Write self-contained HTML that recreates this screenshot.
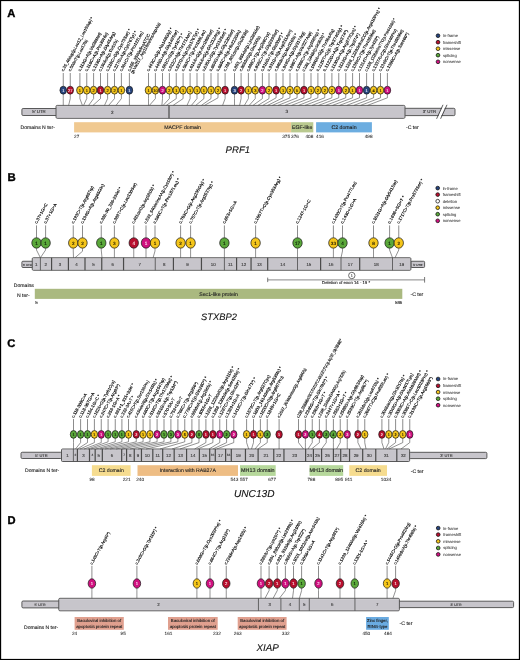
<!DOCTYPE html>
<html><head><meta charset="utf-8"><style>
html,body{margin:0;padding:0;background:#fff;width:520px;height:660px;overflow:hidden;}
svg{display:block;font-family:"Liberation Sans",sans-serif;will-change:transform;text-rendering:geometricPrecision;}
</style></head><body>
<svg width="520" height="660" viewBox="0 0 520 660" font-family="Liberation Sans, sans-serif">
<rect x="0" y="0" width="520" height="660" fill="#fff"/>
<text x="7.20" y="17.20" font-size="11.2" text-anchor="start" fill="#000" font-weight="bold" stroke="#000" stroke-width="0.35">A</text>
<rect x="21.90" y="108.50" width="36.10" height="7.00" rx="1.2" fill="#c7c5cb" stroke="#4a4a4a" stroke-width="0.9"/>
<text x="39.00" y="113.40" font-size="4.4" text-anchor="middle" fill="#333" stroke="#333" stroke-width="0.12" >5' UTR</text>
<rect x="404.00" y="108.30" width="51.00" height="7.30" rx="1.2" fill="#c7c5cb" stroke="#4a4a4a" stroke-width="0.9"/>
<text x="429.50" y="113.30" font-size="4.4" text-anchor="middle" fill="#333" stroke="#333" stroke-width="0.12" >3' UTR</text>
<rect x="56.00" y="105.40" width="349.00" height="12.90" rx="1.2" fill="#c7c5cb" stroke="#4a4a4a" stroke-width="0.9"/>
<line x1="56.60" y1="106.35" x2="404.40" y2="106.35" stroke="#d4d2d7" stroke-width="0.5"/>
<line x1="56.60" y1="117.30" x2="404.40" y2="117.30" stroke="#d0ced3" stroke-width="0.5"/>
<line x1="169.00" y1="105.40" x2="169.00" y2="118.30" stroke="#4a4a4a" stroke-width="1.2"/>
<polygon points="437.3,118.8 443.6,104.6 446.3,104.6 440.0,118.8" fill="#fff"/>
<line x1="436.6" y1="118.8" x2="443.0" y2="104.8" stroke="#333" stroke-width="0.8"/>
<line x1="440.6" y1="118.8" x2="447.0" y2="104.8" stroke="#333" stroke-width="0.8"/>
<text x="112.40" y="113.60" font-size="4.6" text-anchor="middle" fill="#333" stroke="#333" stroke-width="0.12" >2</text>
<text x="286.90" y="113.40" font-size="4.6" text-anchor="middle" fill="#333" stroke="#333" stroke-width="0.12" >3</text>
<line x1="63.25" y1="73.00" x2="63.25" y2="86.20" stroke="#5a5a5a" stroke-width="0.7"/>
<polyline points="63.25,94.20 63.25,98.60 63.25,105.40" fill="none" stroke="#4a4a4a" stroke-width="0.6"/>
<line x1="70.25" y1="73.00" x2="70.25" y2="86.20" stroke="#5a5a5a" stroke-width="0.7"/>
<polyline points="70.25,94.20 70.25,98.60 68.60,105.40" fill="none" stroke="#4a4a4a" stroke-width="0.6"/>
<line x1="79.90" y1="73.00" x2="79.90" y2="86.20" stroke="#5a5a5a" stroke-width="0.7"/>
<polyline points="79.90,94.20 79.90,98.60 82.40,105.40" fill="none" stroke="#4a4a4a" stroke-width="0.6"/>
<line x1="86.75" y1="73.00" x2="86.75" y2="86.20" stroke="#5a5a5a" stroke-width="0.7"/>
<polyline points="86.75,94.20 86.75,98.60 83.60,105.40" fill="none" stroke="#4a4a4a" stroke-width="0.6"/>
<line x1="93.60" y1="73.00" x2="93.60" y2="86.20" stroke="#5a5a5a" stroke-width="0.7"/>
<polyline points="93.60,94.20 93.60,98.60 88.60,105.40" fill="none" stroke="#4a4a4a" stroke-width="0.6"/>
<line x1="100.50" y1="73.00" x2="100.50" y2="86.20" stroke="#5a5a5a" stroke-width="0.7"/>
<polyline points="100.50,94.20 100.50,98.60 93.00,105.40" fill="none" stroke="#4a4a4a" stroke-width="0.6"/>
<line x1="107.60" y1="73.00" x2="107.60" y2="86.20" stroke="#5a5a5a" stroke-width="0.7"/>
<polyline points="107.60,94.20 107.60,98.60 104.50,105.40" fill="none" stroke="#4a4a4a" stroke-width="0.6"/>
<line x1="114.50" y1="73.00" x2="114.50" y2="86.20" stroke="#5a5a5a" stroke-width="0.7"/>
<polyline points="114.50,94.20 114.50,98.60 108.60,105.40" fill="none" stroke="#4a4a4a" stroke-width="0.6"/>
<line x1="121.40" y1="73.00" x2="121.40" y2="86.20" stroke="#5a5a5a" stroke-width="0.7"/>
<polyline points="121.40,94.20 121.40,98.60 116.00,105.40" fill="none" stroke="#4a4a4a" stroke-width="0.6"/>
<line x1="129.40" y1="73.00" x2="129.40" y2="86.20" stroke="#5a5a5a" stroke-width="0.7"/>
<polyline points="129.40,94.20 129.40,98.60 129.40,105.40" fill="none" stroke="#4a4a4a" stroke-width="0.6"/>
<line x1="148.50" y1="73.00" x2="148.50" y2="86.20" stroke="#5a5a5a" stroke-width="0.7"/>
<polyline points="148.50,94.20 148.50,98.60 148.50,105.40" fill="none" stroke="#4a4a4a" stroke-width="0.6"/>
<line x1="155.40" y1="73.00" x2="155.40" y2="86.20" stroke="#5a5a5a" stroke-width="0.7"/>
<polyline points="155.40,94.20 155.40,98.60 149.40,105.40" fill="none" stroke="#4a4a4a" stroke-width="0.6"/>
<line x1="162.50" y1="73.00" x2="162.50" y2="86.20" stroke="#5a5a5a" stroke-width="0.7"/>
<polyline points="162.50,94.20 162.50,98.60 161.90,105.40" fill="none" stroke="#4a4a4a" stroke-width="0.6"/>
<line x1="169.40" y1="73.00" x2="169.40" y2="86.20" stroke="#5a5a5a" stroke-width="0.7"/>
<polyline points="169.40,94.20 169.40,98.60 163.10,105.40" fill="none" stroke="#4a4a4a" stroke-width="0.6"/>
<line x1="176.25" y1="73.00" x2="176.25" y2="86.20" stroke="#5a5a5a" stroke-width="0.7"/>
<polyline points="176.25,94.20 176.25,98.60 166.25,105.40" fill="none" stroke="#4a4a4a" stroke-width="0.6"/>
<line x1="183.10" y1="73.00" x2="183.10" y2="86.20" stroke="#5a5a5a" stroke-width="0.7"/>
<polyline points="183.10,94.20 183.10,98.60 173.10,105.40" fill="none" stroke="#4a4a4a" stroke-width="0.6"/>
<line x1="190.10" y1="73.00" x2="190.10" y2="86.20" stroke="#5a5a5a" stroke-width="0.7"/>
<polyline points="190.10,94.20 190.10,98.60 187.00,105.40" fill="none" stroke="#4a4a4a" stroke-width="0.6"/>
<line x1="197.00" y1="73.00" x2="197.00" y2="86.20" stroke="#5a5a5a" stroke-width="0.7"/>
<polyline points="197.00,94.20 197.00,98.60 191.40,105.40" fill="none" stroke="#4a4a4a" stroke-width="0.6"/>
<line x1="203.90" y1="73.00" x2="203.90" y2="86.20" stroke="#5a5a5a" stroke-width="0.7"/>
<polyline points="203.90,94.20 203.90,98.60 195.75,105.40" fill="none" stroke="#4a4a4a" stroke-width="0.6"/>
<line x1="211.00" y1="73.00" x2="211.00" y2="86.20" stroke="#5a5a5a" stroke-width="0.7"/>
<polyline points="211.00,94.20 211.00,98.60 201.40,105.40" fill="none" stroke="#4a4a4a" stroke-width="0.6"/>
<line x1="218.00" y1="73.00" x2="218.00" y2="86.20" stroke="#5a5a5a" stroke-width="0.7"/>
<polyline points="218.00,94.20 218.00,97.80 204.50,105.40" fill="none" stroke="#4a4a4a" stroke-width="0.6"/>
<line x1="225.10" y1="73.00" x2="225.10" y2="86.20" stroke="#5a5a5a" stroke-width="0.7"/>
<polyline points="225.10,94.20 225.10,98.60 222.60,105.40" fill="none" stroke="#4a4a4a" stroke-width="0.6"/>
<line x1="234.50" y1="73.00" x2="234.50" y2="86.20" stroke="#5a5a5a" stroke-width="0.7"/>
<polyline points="234.50,94.20 234.50,98.60 234.50,105.40" fill="none" stroke="#4a4a4a" stroke-width="0.6"/>
<line x1="241.10" y1="73.00" x2="241.10" y2="86.20" stroke="#5a5a5a" stroke-width="0.7"/>
<polyline points="241.10,94.20 241.10,98.60 239.60,105.40" fill="none" stroke="#4a4a4a" stroke-width="0.6"/>
<line x1="248.40" y1="73.00" x2="248.40" y2="86.20" stroke="#5a5a5a" stroke-width="0.7"/>
<polyline points="248.40,94.20 248.40,98.60 244.40,105.40" fill="none" stroke="#4a4a4a" stroke-width="0.6"/>
<line x1="255.25" y1="73.00" x2="255.25" y2="86.20" stroke="#5a5a5a" stroke-width="0.7"/>
<polyline points="255.25,94.20 255.25,98.60 249.20,105.40" fill="none" stroke="#4a4a4a" stroke-width="0.6"/>
<line x1="262.40" y1="73.00" x2="262.40" y2="86.20" stroke="#5a5a5a" stroke-width="0.7"/>
<polyline points="262.40,94.20 262.40,98.60 253.00,105.40" fill="none" stroke="#4a4a4a" stroke-width="0.6"/>
<line x1="269.00" y1="73.00" x2="269.00" y2="86.20" stroke="#5a5a5a" stroke-width="0.7"/>
<polyline points="269.00,94.20 269.00,98.60 257.90,105.40" fill="none" stroke="#4a4a4a" stroke-width="0.6"/>
<line x1="276.10" y1="73.00" x2="276.10" y2="86.20" stroke="#5a5a5a" stroke-width="0.7"/>
<polyline points="276.10,94.20 276.10,97.80 262.70,105.40" fill="none" stroke="#4a4a4a" stroke-width="0.6"/>
<line x1="283.00" y1="73.00" x2="283.00" y2="86.20" stroke="#5a5a5a" stroke-width="0.7"/>
<polyline points="283.00,94.20 283.00,97.80 267.50,105.40" fill="none" stroke="#4a4a4a" stroke-width="0.6"/>
<line x1="290.00" y1="73.00" x2="290.00" y2="86.20" stroke="#5a5a5a" stroke-width="0.7"/>
<polyline points="290.00,94.20 290.00,97.80 272.30,105.40" fill="none" stroke="#4a4a4a" stroke-width="0.6"/>
<line x1="297.10" y1="73.00" x2="297.10" y2="86.20" stroke="#5a5a5a" stroke-width="0.7"/>
<polyline points="297.10,94.20 297.10,97.80 278.00,105.40" fill="none" stroke="#4a4a4a" stroke-width="0.6"/>
<line x1="304.00" y1="73.00" x2="304.00" y2="86.20" stroke="#5a5a5a" stroke-width="0.7"/>
<polyline points="304.00,94.20 304.00,97.80 284.80,105.40" fill="none" stroke="#4a4a4a" stroke-width="0.6"/>
<line x1="311.00" y1="73.00" x2="311.00" y2="86.20" stroke="#5a5a5a" stroke-width="0.7"/>
<polyline points="311.00,94.20 311.00,97.80 291.50,105.40" fill="none" stroke="#4a4a4a" stroke-width="0.6"/>
<line x1="317.90" y1="73.00" x2="317.90" y2="86.20" stroke="#5a5a5a" stroke-width="0.7"/>
<polyline points="317.90,94.20 317.90,97.80 298.50,105.40" fill="none" stroke="#4a4a4a" stroke-width="0.6"/>
<line x1="324.75" y1="73.00" x2="324.75" y2="86.20" stroke="#5a5a5a" stroke-width="0.7"/>
<polyline points="324.75,94.20 324.75,97.80 305.00,105.40" fill="none" stroke="#4a4a4a" stroke-width="0.6"/>
<line x1="331.90" y1="73.00" x2="331.90" y2="86.20" stroke="#5a5a5a" stroke-width="0.7"/>
<polyline points="331.90,94.20 331.90,97.80 312.00,105.40" fill="none" stroke="#4a4a4a" stroke-width="0.6"/>
<line x1="338.75" y1="73.00" x2="338.75" y2="86.20" stroke="#5a5a5a" stroke-width="0.7"/>
<polyline points="338.75,94.20 338.75,97.80 318.50,105.40" fill="none" stroke="#4a4a4a" stroke-width="0.6"/>
<line x1="345.75" y1="73.00" x2="345.75" y2="86.20" stroke="#5a5a5a" stroke-width="0.7"/>
<polyline points="345.75,94.20 345.75,97.80 325.50,105.40" fill="none" stroke="#4a4a4a" stroke-width="0.6"/>
<line x1="352.60" y1="73.00" x2="352.60" y2="86.20" stroke="#5a5a5a" stroke-width="0.7"/>
<polyline points="352.60,94.20 352.60,97.80 332.50,105.40" fill="none" stroke="#4a4a4a" stroke-width="0.6"/>
<line x1="359.50" y1="73.00" x2="359.50" y2="86.20" stroke="#5a5a5a" stroke-width="0.7"/>
<polyline points="359.50,94.20 359.50,97.80 339.50,105.40" fill="none" stroke="#4a4a4a" stroke-width="0.6"/>
<line x1="366.60" y1="73.00" x2="366.60" y2="86.20" stroke="#5a5a5a" stroke-width="0.7"/>
<polyline points="366.60,94.20 366.60,97.80 346.60,105.40" fill="none" stroke="#4a4a4a" stroke-width="0.6"/>
<line x1="373.60" y1="73.00" x2="373.60" y2="86.20" stroke="#5a5a5a" stroke-width="0.7"/>
<polyline points="373.60,94.20 373.60,97.80 353.80,105.40" fill="none" stroke="#4a4a4a" stroke-width="0.6"/>
<line x1="380.50" y1="73.00" x2="380.50" y2="86.20" stroke="#5a5a5a" stroke-width="0.7"/>
<polyline points="380.50,94.20 380.50,97.80 360.60,105.40" fill="none" stroke="#4a4a4a" stroke-width="0.6"/>
<line x1="387.40" y1="73.00" x2="387.40" y2="86.20" stroke="#5a5a5a" stroke-width="0.7"/>
<polyline points="387.40,94.20 387.40,97.80 367.50,105.40" fill="none" stroke="#4a4a4a" stroke-width="0.6"/>
<ellipse cx="63.25" cy="90.20" rx="3.3" ry="3.95" fill="#27457f" stroke="#151515" stroke-width="0.7"/>
<text x="63.25" y="91.64" font-size="4.0" text-anchor="middle" fill="#f0f0f8" stroke="#f0f0f8" stroke-width="0.12">1</text>
<text transform="translate(63.55,71.80) rotate(-61.0)" font-size="4.2" fill="#000" stroke="#000" stroke-width="0.14" textLength="61.51" lengthAdjust="spacingAndGlyphs">c.35_46dup(p.Leu12_Leu15dup) *</text>
<ellipse cx="70.25" cy="90.20" rx="3.3" ry="3.95" fill="#b80f2e" stroke="#151515" stroke-width="0.7"/>
<text x="70.25" y="91.64" font-size="4.0" text-anchor="middle" fill="#fbe0e6" stroke="#fbe0e6" stroke-width="0.12">27</text>
<text transform="translate(70.55,71.80) rotate(-61.0)" font-size="4.2" fill="#000" stroke="#000" stroke-width="0.14" textLength="35.79" lengthAdjust="spacingAndGlyphs">c.50delT(p.Leu17fs)</text>
<ellipse cx="79.90" cy="90.20" rx="3.3" ry="3.95" fill="#f4c51a" stroke="#151515" stroke-width="0.7"/>
<text x="79.90" y="91.64" font-size="4.0" text-anchor="middle" fill="#1a1400" stroke="#1a1400" stroke-width="0.12">1</text>
<text transform="translate(80.20,71.80) rotate(-61.0)" font-size="4.2" fill="#000" stroke="#000" stroke-width="0.14" textLength="43.79" lengthAdjust="spacingAndGlyphs">c.113G&gt;A(p.Val38Met)</text>
<ellipse cx="86.75" cy="90.20" rx="3.3" ry="3.95" fill="#f4c51a" stroke="#151515" stroke-width="0.7"/>
<text x="86.75" y="91.64" font-size="4.0" text-anchor="middle" fill="#1a1400" stroke="#1a1400" stroke-width="0.12">1</text>
<text transform="translate(87.05,71.80) rotate(-61.0)" font-size="4.2" fill="#000" stroke="#000" stroke-width="0.14" textLength="43.79" lengthAdjust="spacingAndGlyphs">c.116C&gt;A(p.Pro39His)</text>
<ellipse cx="93.60" cy="90.20" rx="3.3" ry="3.95" fill="#f4c51a" stroke="#151515" stroke-width="0.7"/>
<text x="93.60" y="91.64" font-size="4.0" text-anchor="middle" fill="#1a1400" stroke="#1a1400" stroke-width="0.12">2</text>
<text transform="translate(93.90,71.80) rotate(-61.0)" font-size="4.2" fill="#000" stroke="#000" stroke-width="0.14" textLength="44.36" lengthAdjust="spacingAndGlyphs">c.133G&gt;A(p.Gly45Arg)</text>
<ellipse cx="100.50" cy="90.20" rx="3.3" ry="3.95" fill="#b80f2e" stroke="#151515" stroke-width="0.7"/>
<text x="100.50" y="91.64" font-size="4.0" text-anchor="middle" fill="#fbe0e6" stroke="#fbe0e6" stroke-width="0.12">1</text>
<text transform="translate(100.80,71.80) rotate(-61.0)" font-size="4.2" fill="#000" stroke="#000" stroke-width="0.14" textLength="35.79" lengthAdjust="spacingAndGlyphs">c.150delA(p.Thr51fs)</text>
<ellipse cx="107.60" cy="90.20" rx="3.3" ry="3.95" fill="#f4c51a" stroke="#151515" stroke-width="0.7"/>
<text x="107.60" y="91.64" font-size="4.0" text-anchor="middle" fill="#1a1400" stroke="#1a1400" stroke-width="0.12">2</text>
<text transform="translate(107.90,71.80) rotate(-61.0)" font-size="4.2" fill="#000" stroke="#000" stroke-width="0.14" textLength="47.91" lengthAdjust="spacingAndGlyphs">c.218C&gt;G(p.Cys73Ser) *</text>
<ellipse cx="114.50" cy="90.20" rx="3.3" ry="3.95" fill="#f4c51a" stroke="#151515" stroke-width="0.7"/>
<text x="114.50" y="91.64" font-size="4.0" text-anchor="middle" fill="#1a1400" stroke="#1a1400" stroke-width="0.12">2</text>
<text transform="translate(114.80,71.80) rotate(-61.0)" font-size="4.2" fill="#000" stroke="#000" stroke-width="0.14" textLength="45.79" lengthAdjust="spacingAndGlyphs">c.227G&gt;A(p.Cys76Tyr) *</text>
<ellipse cx="121.40" cy="90.20" rx="3.3" ry="3.95" fill="#f4c51a" stroke="#151515" stroke-width="0.7"/>
<text x="121.40" y="91.64" font-size="4.0" text-anchor="middle" fill="#1a1400" stroke="#1a1400" stroke-width="0.12">1</text>
<text transform="translate(121.70,71.80) rotate(-61.0)" font-size="4.2" fill="#000" stroke="#000" stroke-width="0.14" textLength="45.05" lengthAdjust="spacingAndGlyphs">c.364C&gt;T(p.Pro122Leu)</text>
<ellipse cx="129.40" cy="90.20" rx="3.3" ry="3.95" fill="#27457f" stroke="#151515" stroke-width="0.7"/>
<text x="129.40" y="91.64" font-size="4.0" text-anchor="middle" fill="#f0f0f8" stroke="#f0f0f8" stroke-width="0.12">1</text>
<text transform="translate(129.70,71.80) rotate(-61.0)" font-size="4.2" fill="#000" stroke="#000" stroke-width="0.14" textLength="42.19" lengthAdjust="spacingAndGlyphs">c.355_359delinsATCC</text>
<ellipse cx="148.50" cy="90.20" rx="3.3" ry="3.95" fill="#f4c51a" stroke="#151515" stroke-width="0.7"/>
<text x="148.50" y="91.64" font-size="4.0" text-anchor="middle" fill="#1a1400" stroke="#1a1400" stroke-width="0.12">1</text>
<text transform="translate(148.80,71.80) rotate(-61.0)" font-size="4.2" fill="#000" stroke="#000" stroke-width="0.14" textLength="49.39" lengthAdjust="spacingAndGlyphs">c.443C&gt;G(p.Ala148Gly) *</text>
<ellipse cx="155.40" cy="90.20" rx="3.3" ry="3.95" fill="#f4c51a" stroke="#151515" stroke-width="0.7"/>
<text x="155.40" y="91.64" font-size="4.0" text-anchor="middle" fill="#1a1400" stroke="#1a1400" stroke-width="0.12">10</text>
<text transform="translate(155.70,71.80) rotate(-61.0)" font-size="4.2" fill="#000" stroke="#000" stroke-width="0.14" textLength="46.53" lengthAdjust="spacingAndGlyphs">c.445G&gt;A(p.Gly149Ser)</text>
<ellipse cx="162.50" cy="90.20" rx="3.3" ry="3.95" fill="#d0107f" stroke="#151515" stroke-width="0.7"/>
<text x="162.50" y="91.64" font-size="4.0" text-anchor="middle" fill="#fbe0ef" stroke="#fbe0ef" stroke-width="0.12">2</text>
<text transform="translate(162.80,71.80) rotate(-61.0)" font-size="4.2" fill="#000" stroke="#000" stroke-width="0.14" textLength="42.93" lengthAdjust="spacingAndGlyphs">c.501C&gt;G(p.Tyr167*) *</text>
<ellipse cx="169.40" cy="90.20" rx="3.3" ry="3.95" fill="#f4c51a" stroke="#151515" stroke-width="0.7"/>
<text x="169.40" y="91.64" font-size="4.0" text-anchor="middle" fill="#1a1400" stroke="#1a1400" stroke-width="0.12">2</text>
<text transform="translate(169.70,71.80) rotate(-61.0)" font-size="4.2" fill="#000" stroke="#000" stroke-width="0.14" textLength="45.05" lengthAdjust="spacingAndGlyphs">c.512C&gt;A(p.Thr171Asn)</text>
<ellipse cx="176.25" cy="90.20" rx="3.3" ry="3.95" fill="#f4c51a" stroke="#151515" stroke-width="0.7"/>
<text x="176.25" y="91.64" font-size="4.0" text-anchor="middle" fill="#1a1400" stroke="#1a1400" stroke-width="0.12">1</text>
<text transform="translate(176.55,71.80) rotate(-61.0)" font-size="4.2" fill="#000" stroke="#000" stroke-width="0.14" textLength="48.36" lengthAdjust="spacingAndGlyphs">c.527G&gt;A(p.Cys176Tyr) *</text>
<ellipse cx="183.10" cy="90.20" rx="3.3" ry="3.95" fill="#f4c51a" stroke="#151515" stroke-width="0.7"/>
<text x="183.10" y="91.64" font-size="4.0" text-anchor="middle" fill="#1a1400" stroke="#1a1400" stroke-width="0.12">1</text>
<text transform="translate(183.40,71.80) rotate(-61.0)" font-size="4.2" fill="#000" stroke="#000" stroke-width="0.14" textLength="46.53" lengthAdjust="spacingAndGlyphs">c.563C&gt;T(p.Pro188Leu)</text>
<ellipse cx="190.10" cy="90.20" rx="3.3" ry="3.95" fill="#f4c51a" stroke="#151515" stroke-width="0.7"/>
<text x="190.10" y="91.64" font-size="4.0" text-anchor="middle" fill="#1a1400" stroke="#1a1400" stroke-width="0.12">1</text>
<text transform="translate(190.40,71.80) rotate(-61.0)" font-size="4.2" fill="#000" stroke="#000" stroke-width="0.14" textLength="47.22" lengthAdjust="spacingAndGlyphs">c.614A&gt;G(p.Asn205Ser)</text>
<ellipse cx="197.00" cy="90.20" rx="3.3" ry="3.95" fill="#f4c51a" stroke="#151515" stroke-width="0.7"/>
<text x="197.00" y="91.64" font-size="4.0" text-anchor="middle" fill="#1a1400" stroke="#1a1400" stroke-width="0.12">1</text>
<text transform="translate(197.30,71.80) rotate(-61.0)" font-size="4.2" fill="#000" stroke="#000" stroke-width="0.14" textLength="49.39" lengthAdjust="spacingAndGlyphs">c.634A&gt;G(p.Gln212Arg) *</text>
<ellipse cx="203.90" cy="90.20" rx="3.3" ry="3.95" fill="#f4c51a" stroke="#151515" stroke-width="0.7"/>
<text x="203.90" y="91.64" font-size="4.0" text-anchor="middle" fill="#1a1400" stroke="#1a1400" stroke-width="0.12">1</text>
<text transform="translate(204.20,71.80) rotate(-61.0)" font-size="4.2" fill="#000" stroke="#000" stroke-width="0.14" textLength="47.91" lengthAdjust="spacingAndGlyphs">c.635A&gt;G(p.Tyr212Ser) *</text>
<ellipse cx="211.00" cy="90.20" rx="3.3" ry="3.95" fill="#f4c51a" stroke="#151515" stroke-width="0.7"/>
<text x="211.00" y="91.64" font-size="4.0" text-anchor="middle" fill="#1a1400" stroke="#1a1400" stroke-width="0.12">1</text>
<text transform="translate(211.30,71.80) rotate(-61.0)" font-size="4.2" fill="#000" stroke="#000" stroke-width="0.14" textLength="47.22" lengthAdjust="spacingAndGlyphs">c.659G&gt;A(p.Gly220Ser)</text>
<ellipse cx="218.00" cy="90.20" rx="3.3" ry="3.95" fill="#f4c51a" stroke="#151515" stroke-width="0.7"/>
<text x="218.00" y="91.64" font-size="4.0" text-anchor="middle" fill="#1a1400" stroke="#1a1400" stroke-width="0.12">2</text>
<text transform="translate(218.30,71.80) rotate(-61.0)" font-size="4.2" fill="#000" stroke="#000" stroke-width="0.14" textLength="46.53" lengthAdjust="spacingAndGlyphs">c.665C&gt;A(p.His222Gln)</text>
<ellipse cx="225.10" cy="90.20" rx="3.3" ry="3.95" fill="#b80f2e" stroke="#151515" stroke-width="0.7"/>
<text x="225.10" y="91.64" font-size="4.0" text-anchor="middle" fill="#fbe0e6" stroke="#fbe0e6" stroke-width="0.12">1</text>
<text transform="translate(225.40,71.80) rotate(-61.0)" font-size="4.2" fill="#000" stroke="#000" stroke-width="0.14" textLength="47.22" lengthAdjust="spacingAndGlyphs">c.788_801del(p.Glu263fs)</text>
<ellipse cx="234.50" cy="90.20" rx="3.3" ry="3.95" fill="#27457f" stroke="#151515" stroke-width="0.7"/>
<text x="234.50" y="91.64" font-size="4.0" text-anchor="middle" fill="#f0f0f8" stroke="#f0f0f8" stroke-width="0.12">3</text>
<text transform="translate(234.80,71.80) rotate(-61.0)" font-size="4.2" fill="#000" stroke="#000" stroke-width="0.14" textLength="51.51" lengthAdjust="spacingAndGlyphs">c.853_855del(p.Lys285del)</text>
<ellipse cx="241.10" cy="90.20" rx="3.3" ry="3.95" fill="#b80f2e" stroke="#151515" stroke-width="0.7"/>
<text x="241.10" y="91.64" font-size="4.0" text-anchor="middle" fill="#fbe0e6" stroke="#fbe0e6" stroke-width="0.12">2</text>
<text transform="translate(241.40,71.80) rotate(-61.0)" font-size="4.2" fill="#000" stroke="#000" stroke-width="0.14" textLength="40.07" lengthAdjust="spacingAndGlyphs">c.868delG(p.Gln290fs)</text>
<ellipse cx="248.40" cy="90.20" rx="3.3" ry="3.95" fill="#f4c51a" stroke="#151515" stroke-width="0.7"/>
<text x="248.40" y="91.64" font-size="4.0" text-anchor="middle" fill="#1a1400" stroke="#1a1400" stroke-width="0.12">1</text>
<text transform="translate(248.70,71.80) rotate(-61.0)" font-size="4.2" fill="#000" stroke="#000" stroke-width="0.14" textLength="44.36" lengthAdjust="spacingAndGlyphs">c.886C&gt;T(p.Arg296Cys)</text>
<ellipse cx="255.25" cy="90.20" rx="3.3" ry="3.95" fill="#f4c51a" stroke="#151515" stroke-width="0.7"/>
<text x="255.25" y="91.64" font-size="4.0" text-anchor="middle" fill="#1a1400" stroke="#1a1400" stroke-width="0.12">3</text>
<text transform="translate(255.55,71.80) rotate(-61.0)" font-size="4.2" fill="#000" stroke="#000" stroke-width="0.14" textLength="47.22" lengthAdjust="spacingAndGlyphs">c.895C&gt;T(p.Gly299Ser)</text>
<ellipse cx="262.40" cy="90.20" rx="3.3" ry="3.95" fill="#d0107f" stroke="#151515" stroke-width="0.7"/>
<text x="262.40" y="91.64" font-size="4.0" text-anchor="middle" fill="#fbe0ef" stroke="#fbe0ef" stroke-width="0.12">2</text>
<text transform="translate(262.70,71.80) rotate(-61.0)" font-size="4.2" fill="#000" stroke="#000" stroke-width="0.14" textLength="43.79" lengthAdjust="spacingAndGlyphs">c.916G&gt;T(p.Glu306*) *</text>
<ellipse cx="269.00" cy="90.20" rx="3.3" ry="3.95" fill="#f4c51a" stroke="#151515" stroke-width="0.7"/>
<text x="269.00" y="91.64" font-size="4.0" text-anchor="middle" fill="#1a1400" stroke="#1a1400" stroke-width="0.12">2</text>
<text transform="translate(269.30,71.80) rotate(-61.0)" font-size="4.2" fill="#000" stroke="#000" stroke-width="0.14" textLength="47.22" lengthAdjust="spacingAndGlyphs">c.931G&gt;A(p.Asp311Asn)</text>
<ellipse cx="276.10" cy="90.20" rx="3.3" ry="3.95" fill="#b80f2e" stroke="#151515" stroke-width="0.7"/>
<text x="276.10" y="91.64" font-size="4.0" text-anchor="middle" fill="#fbe0e6" stroke="#fbe0e6" stroke-width="0.12">1</text>
<text transform="translate(276.40,71.80) rotate(-61.0)" font-size="4.2" fill="#000" stroke="#000" stroke-width="0.14" textLength="42.93" lengthAdjust="spacingAndGlyphs">c.946delA(p.Met316fs) *</text>
<ellipse cx="283.00" cy="90.20" rx="3.3" ry="3.95" fill="#f4c51a" stroke="#151515" stroke-width="0.7"/>
<text x="283.00" y="91.64" font-size="4.0" text-anchor="middle" fill="#1a1400" stroke="#1a1400" stroke-width="0.12">1</text>
<text transform="translate(283.30,71.80) rotate(-61.0)" font-size="4.2" fill="#000" stroke="#000" stroke-width="0.14" textLength="45.05" lengthAdjust="spacingAndGlyphs">c.949G&gt;A(p.Gly317Arg)</text>
<ellipse cx="290.00" cy="90.20" rx="3.3" ry="3.95" fill="#f4c51a" stroke="#151515" stroke-width="0.7"/>
<text x="290.00" y="91.64" font-size="4.0" text-anchor="middle" fill="#1a1400" stroke="#1a1400" stroke-width="0.12">2</text>
<text transform="translate(290.30,71.80) rotate(-61.0)" font-size="4.2" fill="#000" stroke="#000" stroke-width="0.14" textLength="45.05" lengthAdjust="spacingAndGlyphs">c.980T&gt;A(p.Val327Asp)</text>
<ellipse cx="297.10" cy="90.20" rx="3.3" ry="3.95" fill="#f4c51a" stroke="#151515" stroke-width="0.7"/>
<text x="297.10" y="91.64" font-size="4.0" text-anchor="middle" fill="#1a1400" stroke="#1a1400" stroke-width="0.12">5</text>
<text transform="translate(297.40,71.80) rotate(-61.0)" font-size="4.2" fill="#000" stroke="#000" stroke-width="0.14" textLength="47.22" lengthAdjust="spacingAndGlyphs">c.1066C&gt;T(p.Arg356Trp) *</text>
<ellipse cx="304.00" cy="90.20" rx="3.3" ry="3.95" fill="#b80f2e" stroke="#151515" stroke-width="0.7"/>
<text x="304.00" y="91.64" font-size="4.0" text-anchor="middle" fill="#fbe0e6" stroke="#fbe0e6" stroke-width="0.12">1</text>
<text transform="translate(304.30,71.80) rotate(-61.0)" font-size="4.2" fill="#000" stroke="#000" stroke-width="0.14" textLength="42.93" lengthAdjust="spacingAndGlyphs">c.1083_1094del(p.Ser361fs) *</text>
<ellipse cx="311.00" cy="90.20" rx="3.3" ry="3.95" fill="#f4c51a" stroke="#151515" stroke-width="0.7"/>
<text x="311.00" y="91.64" font-size="4.0" text-anchor="middle" fill="#1a1400" stroke="#1a1400" stroke-width="0.12">1</text>
<text transform="translate(311.30,71.80) rotate(-61.0)" font-size="4.2" fill="#000" stroke="#000" stroke-width="0.14" textLength="47.91" lengthAdjust="spacingAndGlyphs">c.1090A&gt;G(p.Thr364Ala)</text>
<ellipse cx="317.90" cy="90.20" rx="3.3" ry="3.95" fill="#f4c51a" stroke="#151515" stroke-width="0.7"/>
<text x="317.90" y="91.64" font-size="4.0" text-anchor="middle" fill="#1a1400" stroke="#1a1400" stroke-width="0.12">2</text>
<text transform="translate(318.20,71.80) rotate(-61.0)" font-size="4.2" fill="#000" stroke="#000" stroke-width="0.14" textLength="52.25" lengthAdjust="spacingAndGlyphs">c.1120T&gt;G(p.Trp374Gly) *</text>
<ellipse cx="324.75" cy="90.20" rx="3.3" ry="3.95" fill="#f4c51a" stroke="#151515" stroke-width="0.7"/>
<text x="324.75" y="91.64" font-size="4.0" text-anchor="middle" fill="#1a1400" stroke="#1a1400" stroke-width="0.12">2</text>
<text transform="translate(325.05,71.80) rotate(-61.0)" font-size="4.2" fill="#000" stroke="#000" stroke-width="0.14" textLength="47.22" lengthAdjust="spacingAndGlyphs">c.1122G&gt;A(p.Trp374*)</text>
<ellipse cx="331.90" cy="90.20" rx="3.3" ry="3.95" fill="#f4c51a" stroke="#151515" stroke-width="0.7"/>
<text x="331.90" y="91.64" font-size="4.0" text-anchor="middle" fill="#1a1400" stroke="#1a1400" stroke-width="0.12">2</text>
<text transform="translate(332.20,71.80) rotate(-61.0)" font-size="4.2" fill="#000" stroke="#000" stroke-width="0.14" textLength="51.51" lengthAdjust="spacingAndGlyphs">c.1130G&gt;A(p.Arg377Cys) *</text>
<ellipse cx="338.75" cy="90.20" rx="3.3" ry="3.95" fill="#d0107f" stroke="#151515" stroke-width="0.7"/>
<text x="338.75" y="91.64" font-size="4.0" text-anchor="middle" fill="#fbe0ef" stroke="#fbe0ef" stroke-width="0.12">1</text>
<text transform="translate(339.05,71.80) rotate(-61.0)" font-size="4.2" fill="#000" stroke="#000" stroke-width="0.14" textLength="42.93" lengthAdjust="spacingAndGlyphs">c.1122G&gt;A(p.Trp374*)</text>
<ellipse cx="345.75" cy="90.20" rx="3.3" ry="3.95" fill="#f4c51a" stroke="#151515" stroke-width="0.7"/>
<text x="345.75" y="91.64" font-size="4.0" text-anchor="middle" fill="#1a1400" stroke="#1a1400" stroke-width="0.12">2</text>
<text transform="translate(346.05,71.80) rotate(-61.0)" font-size="4.2" fill="#000" stroke="#000" stroke-width="0.14" textLength="72.26" lengthAdjust="spacingAndGlyphs">c.1228_1229delinsCC(p.Arg410Pro) *</text>
<ellipse cx="352.60" cy="90.20" rx="3.3" ry="3.95" fill="#f4c51a" stroke="#151515" stroke-width="0.7"/>
<text x="352.60" y="91.64" font-size="4.0" text-anchor="middle" fill="#1a1400" stroke="#1a1400" stroke-width="0.12">1</text>
<text transform="translate(352.90,71.80) rotate(-61.0)" font-size="4.2" fill="#000" stroke="#000" stroke-width="0.14" textLength="47.22" lengthAdjust="spacingAndGlyphs">c.1304C&gt;T(p.Thr435Met)</text>
<ellipse cx="359.50" cy="90.20" rx="3.3" ry="3.95" fill="#d0107f" stroke="#151515" stroke-width="0.7"/>
<text x="359.50" y="91.64" font-size="4.0" text-anchor="middle" fill="#fbe0ef" stroke="#fbe0ef" stroke-width="0.12">1</text>
<text transform="translate(359.80,71.80) rotate(-61.0)" font-size="4.2" fill="#000" stroke="#000" stroke-width="0.14" textLength="40.07" lengthAdjust="spacingAndGlyphs">c.1314T&gt;A(p.Tyr438*)</text>
<ellipse cx="366.60" cy="90.20" rx="3.3" ry="3.95" fill="#27457f" stroke="#151515" stroke-width="0.7"/>
<text x="366.60" y="91.64" font-size="4.0" text-anchor="middle" fill="#f0f0f8" stroke="#f0f0f8" stroke-width="0.12">1</text>
<text transform="translate(366.90,71.80) rotate(-61.0)" font-size="4.2" fill="#000" stroke="#000" stroke-width="0.14" textLength="60.08" lengthAdjust="spacingAndGlyphs">c.1326_1328delinsTTC(p.Phe443del) *</text>
<ellipse cx="373.60" cy="90.20" rx="3.3" ry="3.95" fill="#f4c51a" stroke="#151515" stroke-width="0.7"/>
<text x="373.60" y="91.64" font-size="4.0" text-anchor="middle" fill="#1a1400" stroke="#1a1400" stroke-width="0.12">4</text>
<text transform="translate(373.90,71.80) rotate(-61.0)" font-size="4.2" fill="#000" stroke="#000" stroke-width="0.14" textLength="47.91" lengthAdjust="spacingAndGlyphs">c.1337A&gt;C(p.Gln446Pro)</text>
<ellipse cx="380.50" cy="90.20" rx="3.3" ry="3.95" fill="#f4c51a" stroke="#151515" stroke-width="0.7"/>
<text x="380.50" y="91.64" font-size="4.0" text-anchor="middle" fill="#1a1400" stroke="#1a1400" stroke-width="0.12">1</text>
<text transform="translate(380.80,71.80) rotate(-61.0)" font-size="4.2" fill="#000" stroke="#000" stroke-width="0.14" textLength="47.22" lengthAdjust="spacingAndGlyphs">c.1349C&gt;T(p.Thr450Met)</text>
<ellipse cx="387.40" cy="90.20" rx="3.3" ry="3.95" fill="#d0107f" stroke="#151515" stroke-width="0.7"/>
<text x="387.40" y="91.64" font-size="4.0" text-anchor="middle" fill="#fbe0ef" stroke="#fbe0ef" stroke-width="0.12">1</text>
<text transform="translate(387.70,71.80) rotate(-61.0)" font-size="4.2" fill="#000" stroke="#000" stroke-width="0.14" textLength="43.68" lengthAdjust="spacingAndGlyphs">c.1380C&gt;A(p.Ser460*)</text>
<text transform="translate(132.90,73.90) rotate(-61.0)" font-size="4.2" fill="#000" stroke="#000" stroke-width="0.14" textLength="57.51" lengthAdjust="spacingAndGlyphs">(p.Val117_Arg118delinsAspAla)</text>
<circle cx="438.00" cy="35.70" r="1.85" fill="#27457f" stroke="#111" stroke-width="0.75"/>
<text x="443.00" y="37.10" font-size="4.1" text-anchor="start" fill="#333" stroke="#333" stroke-width="0.05" >in-frame</text>
<circle cx="438.00" cy="42.20" r="1.85" fill="#b80f2e" stroke="#111" stroke-width="0.75"/>
<text x="443.00" y="43.60" font-size="4.1" text-anchor="start" fill="#333" stroke="#333" stroke-width="0.05" >frameshift</text>
<circle cx="438.00" cy="48.70" r="1.85" fill="#f4c51a" stroke="#111" stroke-width="0.75"/>
<text x="443.00" y="50.10" font-size="4.1" text-anchor="start" fill="#333" stroke="#333" stroke-width="0.05" >missense</text>
<circle cx="438.00" cy="55.20" r="1.85" fill="#5aa83a" stroke="#111" stroke-width="0.75"/>
<text x="443.00" y="56.60" font-size="4.1" text-anchor="start" fill="#333" stroke="#333" stroke-width="0.05" >splicing</text>
<circle cx="438.00" cy="61.80" r="1.85" fill="#d0107f" stroke="#111" stroke-width="0.75"/>
<text x="443.00" y="63.20" font-size="4.1" text-anchor="start" fill="#333" stroke="#333" stroke-width="0.05" >nonsense</text>
<text x="20.60" y="129.00" font-size="5.1" text-anchor="start" fill="#222" stroke="#222" stroke-width="0.12" >Domains N ter-</text>
<rect x="74.10" y="122.20" width="217.00" height="10.20" fill="#f0c991"/>
<text x="182.60" y="129.12" font-size="5.2" text-anchor="middle" fill="#222" stroke="#222" stroke-width="0.12" >MACPF domain</text>
<rect x="291.10" y="122.20" width="22.20" height="10.20" fill="#b9c98f"/>
<text x="302.20" y="129.12" font-size="5.2" text-anchor="middle" fill="#222" stroke="#222" stroke-width="0.12" >EGF-like</text>
<rect x="316.10" y="122.20" width="55.80" height="10.20" fill="#6cade0"/>
<text x="344.00" y="129.12" font-size="5.2" text-anchor="middle" fill="#222" stroke="#222" stroke-width="0.12" >C2 domain</text>
<text x="406.00" y="129.20" font-size="5.1" text-anchor="start" fill="#222" stroke="#222" stroke-width="0.12" >-C ter</text>
<text x="74.10" y="137.90" font-size="4.7" text-anchor="start" fill="#1a1a1a" stroke="#1a1a1a" stroke-width="0.05" >27</text>
<text x="290.10" y="137.90" font-size="4.7" text-anchor="end" fill="#1a1a1a" stroke="#1a1a1a" stroke-width="0.05" >375</text>
<text x="291.10" y="137.90" font-size="4.7" text-anchor="start" fill="#1a1a1a" stroke="#1a1a1a" stroke-width="0.05" >376</text>
<text x="313.30" y="137.90" font-size="4.7" text-anchor="end" fill="#1a1a1a" stroke="#1a1a1a" stroke-width="0.05" >408</text>
<text x="316.10" y="137.90" font-size="4.7" text-anchor="start" fill="#1a1a1a" stroke="#1a1a1a" stroke-width="0.05" >416</text>
<text x="372.50" y="137.90" font-size="4.7" text-anchor="end" fill="#1a1a1a" stroke="#1a1a1a" stroke-width="0.05" >498</text>
<text x="225.60" y="153.10" font-size="9.6" text-anchor="start" fill="#111" stroke="#111" stroke-width="0.1" font-style="italic">PRF1</text>
<text x="7.40" y="180.80" font-size="11.4" text-anchor="start" fill="#000" font-weight="bold" stroke="#000" stroke-width="0.35">B</text>
<rect x="21.90" y="261.25" width="11.10" height="6.25" rx="1.0" fill="#c7c5cb" stroke="#4a4a4a" stroke-width="0.9"/>
<text x="27.40" y="265.60" font-size="2.9" text-anchor="middle" fill="#333" stroke="#333" stroke-width="0.12" >5' UTR</text>
<rect x="410.90" y="261.25" width="13.70" height="6.25" rx="1.0" fill="#c7c5cb" stroke="#4a4a4a" stroke-width="0.9"/>
<text x="417.70" y="265.60" font-size="3.0" text-anchor="middle" fill="#333" stroke="#333" stroke-width="0.12" >3' UTR</text>
<rect x="32.25" y="257.75" width="378.65" height="12.50" rx="1.0" fill="#c7c5cb" stroke="#4a4a4a" stroke-width="0.9"/>
<line x1="32.85" y1="258.70" x2="410.30" y2="258.70" stroke="#d4d2d7" stroke-width="0.5"/>
<line x1="32.85" y1="269.25" x2="410.30" y2="269.25" stroke="#d0ced3" stroke-width="0.5"/>
<line x1="40.40" y1="257.75" x2="40.40" y2="270.25" stroke="#4a4a4a" stroke-width="0.8"/>
<line x1="51.58" y1="257.75" x2="51.58" y2="270.25" stroke="#4a4a4a" stroke-width="1.2"/>
<line x1="68.42" y1="257.75" x2="68.42" y2="270.25" stroke="#4a4a4a" stroke-width="1.2"/>
<line x1="85.00" y1="257.75" x2="85.00" y2="270.25" stroke="#4a4a4a" stroke-width="1.2"/>
<line x1="101.75" y1="257.75" x2="101.75" y2="270.25" stroke="#4a4a4a" stroke-width="1.2"/>
<line x1="123.55" y1="257.75" x2="123.55" y2="270.25" stroke="#4a4a4a" stroke-width="1.2"/>
<line x1="155.25" y1="257.75" x2="155.25" y2="270.25" stroke="#4a4a4a" stroke-width="0.8"/>
<line x1="173.43" y1="257.75" x2="173.43" y2="270.25" stroke="#4a4a4a" stroke-width="1.2"/>
<line x1="201.45" y1="257.75" x2="201.45" y2="270.25" stroke="#4a4a4a" stroke-width="1.2"/>
<line x1="224.40" y1="257.75" x2="224.40" y2="270.25" stroke="#4a4a4a" stroke-width="0.8"/>
<line x1="236.57" y1="257.75" x2="236.57" y2="270.25" stroke="#4a4a4a" stroke-width="1.2"/>
<line x1="251.05" y1="257.75" x2="251.05" y2="270.25" stroke="#4a4a4a" stroke-width="1.2"/>
<line x1="267.68" y1="257.75" x2="267.68" y2="270.25" stroke="#4a4a4a" stroke-width="1.2"/>
<line x1="297.50" y1="257.75" x2="297.50" y2="270.25" stroke="#4a4a4a" stroke-width="0.8"/>
<line x1="320.62" y1="257.75" x2="320.62" y2="270.25" stroke="#4a4a4a" stroke-width="1.2"/>
<line x1="341.00" y1="257.75" x2="341.00" y2="270.25" stroke="#4a4a4a" stroke-width="0.8"/>
<line x1="359.70" y1="257.75" x2="359.70" y2="270.25" stroke="#4a4a4a" stroke-width="1.2"/>
<line x1="392.50" y1="257.75" x2="392.50" y2="270.25" stroke="#4a4a4a" stroke-width="0.8"/>
<text x="36.33" y="265.58" font-size="4.4" text-anchor="middle" fill="#3a3a3a" stroke="#3a3a3a" stroke-width="0.12" >1</text>
<text x="45.83" y="265.58" font-size="4.4" text-anchor="middle" fill="#3a3a3a" stroke="#3a3a3a" stroke-width="0.12" >2</text>
<text x="60.00" y="265.58" font-size="4.4" text-anchor="middle" fill="#3a3a3a" stroke="#3a3a3a" stroke-width="0.12" >3</text>
<text x="76.58" y="265.58" font-size="4.4" text-anchor="middle" fill="#3a3a3a" stroke="#3a3a3a" stroke-width="0.12" >4</text>
<text x="93.42" y="265.58" font-size="4.4" text-anchor="middle" fill="#3a3a3a" stroke="#3a3a3a" stroke-width="0.12" >5</text>
<text x="112.67" y="265.58" font-size="4.4" text-anchor="middle" fill="#3a3a3a" stroke="#3a3a3a" stroke-width="0.12" >6</text>
<text x="139.62" y="265.58" font-size="4.4" text-anchor="middle" fill="#3a3a3a" stroke="#3a3a3a" stroke-width="0.12" >7</text>
<text x="164.18" y="265.58" font-size="4.4" text-anchor="middle" fill="#3a3a3a" stroke="#3a3a3a" stroke-width="0.12" >8</text>
<text x="187.38" y="265.58" font-size="4.4" text-anchor="middle" fill="#3a3a3a" stroke="#3a3a3a" stroke-width="0.12" >9</text>
<text x="213.15" y="265.58" font-size="4.4" text-anchor="middle" fill="#3a3a3a" stroke="#3a3a3a" stroke-width="0.12" >10</text>
<text x="230.32" y="265.58" font-size="4.4" text-anchor="middle" fill="#3a3a3a" stroke="#3a3a3a" stroke-width="0.12" >11</text>
<text x="243.75" y="265.58" font-size="4.4" text-anchor="middle" fill="#3a3a3a" stroke="#3a3a3a" stroke-width="0.12" >12</text>
<text x="259.38" y="265.58" font-size="4.4" text-anchor="middle" fill="#3a3a3a" stroke="#3a3a3a" stroke-width="0.12" >13</text>
<text x="282.80" y="265.58" font-size="4.4" text-anchor="middle" fill="#3a3a3a" stroke="#3a3a3a" stroke-width="0.12" >14</text>
<text x="308.88" y="265.58" font-size="4.4" text-anchor="middle" fill="#3a3a3a" stroke="#3a3a3a" stroke-width="0.12" >15</text>
<text x="331.00" y="265.58" font-size="4.4" text-anchor="middle" fill="#3a3a3a" stroke="#3a3a3a" stroke-width="0.12" >16</text>
<text x="350.20" y="265.58" font-size="4.4" text-anchor="middle" fill="#3a3a3a" stroke="#3a3a3a" stroke-width="0.12" >17</text>
<text x="376.25" y="265.58" font-size="4.4" text-anchor="middle" fill="#3a3a3a" stroke="#3a3a3a" stroke-width="0.12" >18</text>
<text x="401.70" y="265.58" font-size="4.4" text-anchor="middle" fill="#3a3a3a" stroke="#3a3a3a" stroke-width="0.12" >19</text>
<line x1="36.50" y1="225.40" x2="36.50" y2="237.80" stroke="#5a5a5a" stroke-width="0.7"/>
<polyline points="36.50,248.20 36.50,250.00 40.40,257.75" fill="none" stroke="#4a4a4a" stroke-width="0.6"/>
<line x1="45.60" y1="225.40" x2="45.60" y2="237.80" stroke="#5a5a5a" stroke-width="0.7"/>
<polyline points="45.60,248.20 45.60,250.00 40.40,257.75" fill="none" stroke="#4a4a4a" stroke-width="0.6"/>
<line x1="73.25" y1="225.40" x2="73.25" y2="237.80" stroke="#5a5a5a" stroke-width="0.7"/>
<polyline points="73.25,248.20 73.25,251.00 73.50,257.75" fill="none" stroke="#4a4a4a" stroke-width="0.6"/>
<line x1="82.50" y1="225.40" x2="82.50" y2="237.80" stroke="#5a5a5a" stroke-width="0.7"/>
<polyline points="82.50,248.20 82.50,251.25 75.00,257.75" fill="none" stroke="#4a4a4a" stroke-width="0.6"/>
<line x1="101.25" y1="225.40" x2="101.25" y2="237.80" stroke="#5a5a5a" stroke-width="0.7"/>
<polyline points="101.25,248.20 101.25,250.00 102.00,257.75" fill="none" stroke="#4a4a4a" stroke-width="0.6"/>
<line x1="114.40" y1="225.40" x2="114.40" y2="237.80" stroke="#5a5a5a" stroke-width="0.7"/>
<polyline points="114.40,248.20 114.40,250.00 114.40,257.75" fill="none" stroke="#4a4a4a" stroke-width="0.6"/>
<line x1="133.75" y1="225.40" x2="133.75" y2="237.80" stroke="#5a5a5a" stroke-width="0.7"/>
<polyline points="133.75,248.20 133.75,250.00 133.75,257.75" fill="none" stroke="#4a4a4a" stroke-width="0.6"/>
<line x1="146.00" y1="225.40" x2="146.00" y2="237.80" stroke="#5a5a5a" stroke-width="0.7"/>
<polyline points="146.00,248.20 146.00,250.00 146.00,257.75" fill="none" stroke="#4a4a4a" stroke-width="0.6"/>
<line x1="155.00" y1="225.40" x2="155.00" y2="237.80" stroke="#5a5a5a" stroke-width="0.7"/>
<polyline points="155.00,248.20 155.00,251.00 153.10,257.75" fill="none" stroke="#4a4a4a" stroke-width="0.6"/>
<line x1="180.60" y1="225.40" x2="180.60" y2="237.80" stroke="#5a5a5a" stroke-width="0.7"/>
<polyline points="180.60,248.20 180.60,250.00 180.60,257.75" fill="none" stroke="#4a4a4a" stroke-width="0.6"/>
<line x1="190.60" y1="225.40" x2="190.60" y2="237.80" stroke="#5a5a5a" stroke-width="0.7"/>
<polyline points="190.60,248.20 190.60,250.00 190.60,257.75" fill="none" stroke="#4a4a4a" stroke-width="0.6"/>
<line x1="224.40" y1="225.40" x2="224.40" y2="237.80" stroke="#5a5a5a" stroke-width="0.7"/>
<polyline points="224.40,248.20 224.40,250.00 224.40,257.75" fill="none" stroke="#4a4a4a" stroke-width="0.6"/>
<line x1="255.60" y1="225.40" x2="255.60" y2="237.80" stroke="#5a5a5a" stroke-width="0.7"/>
<polyline points="255.60,248.20 255.60,250.00 255.60,257.75" fill="none" stroke="#4a4a4a" stroke-width="0.6"/>
<line x1="297.50" y1="225.40" x2="297.50" y2="237.80" stroke="#5a5a5a" stroke-width="0.7"/>
<polyline points="297.50,248.20 297.50,250.00 297.50,257.75" fill="none" stroke="#4a4a4a" stroke-width="0.6"/>
<line x1="333.40" y1="225.40" x2="333.40" y2="237.80" stroke="#5a5a5a" stroke-width="0.7"/>
<polyline points="333.40,248.20 333.40,250.00 333.40,257.75" fill="none" stroke="#4a4a4a" stroke-width="0.6"/>
<line x1="342.50" y1="225.40" x2="342.50" y2="237.80" stroke="#5a5a5a" stroke-width="0.7"/>
<polyline points="342.50,248.20 342.50,251.00 341.00,257.75" fill="none" stroke="#4a4a4a" stroke-width="0.6"/>
<line x1="373.50" y1="225.40" x2="373.50" y2="237.80" stroke="#5a5a5a" stroke-width="0.7"/>
<polyline points="373.50,248.20 373.50,250.00 373.50,257.75" fill="none" stroke="#4a4a4a" stroke-width="0.6"/>
<line x1="389.60" y1="225.40" x2="389.60" y2="237.80" stroke="#5a5a5a" stroke-width="0.7"/>
<polyline points="389.60,248.20 389.60,250.00 392.50,257.75" fill="none" stroke="#4a4a4a" stroke-width="0.6"/>
<line x1="398.75" y1="225.40" x2="398.75" y2="237.80" stroke="#5a5a5a" stroke-width="0.7"/>
<polyline points="398.75,248.20 398.75,250.00 395.00,257.75" fill="none" stroke="#4a4a4a" stroke-width="0.6"/>
<ellipse cx="36.50" cy="242.95" rx="4.7" ry="5.2" fill="#5aa83a" stroke="#151515" stroke-width="0.7"/>
<text x="36.50" y="244.61" font-size="4.6" text-anchor="middle" fill="#0a1a05" stroke="#0a1a05" stroke-width="0.12">1</text>
<text transform="translate(36.80,224.00) rotate(-61.0)" font-size="4.2" fill="#000" stroke="#000" stroke-width="0.14" textLength="22.52" lengthAdjust="spacingAndGlyphs">c.37+1G&gt;C</text>
<ellipse cx="45.60" cy="242.95" rx="4.7" ry="5.2" fill="#5aa83a" stroke="#151515" stroke-width="0.7"/>
<text x="45.60" y="244.61" font-size="4.6" text-anchor="middle" fill="#0a1a05" stroke="#0a1a05" stroke-width="0.12">1</text>
<text transform="translate(45.90,224.00) rotate(-61.0)" font-size="4.2" fill="#000" stroke="#000" stroke-width="0.14" textLength="22.52" lengthAdjust="spacingAndGlyphs">c.37+1G&gt;A</text>
<ellipse cx="73.25" cy="242.95" rx="4.7" ry="5.2" fill="#f4c51a" stroke="#151515" stroke-width="0.7"/>
<text x="73.25" y="244.61" font-size="4.6" text-anchor="middle" fill="#1a1400" stroke="#1a1400" stroke-width="0.12">2</text>
<text transform="translate(73.55,224.00) rotate(-61.0)" font-size="4.2" fill="#000" stroke="#000" stroke-width="0.14" textLength="42.30" lengthAdjust="spacingAndGlyphs">c.193C&gt;T(p.Arg65Trp)</text>
<ellipse cx="82.50" cy="242.95" rx="4.7" ry="5.2" fill="#f4c51a" stroke="#151515" stroke-width="0.7"/>
<text x="82.50" y="244.61" font-size="4.6" text-anchor="middle" fill="#1a1400" stroke="#1a1400" stroke-width="0.12">2</text>
<text transform="translate(82.80,224.00) rotate(-61.0)" font-size="4.2" fill="#000" stroke="#000" stroke-width="0.14" textLength="44.48" lengthAdjust="spacingAndGlyphs">c.194G&gt;A(p.Arg65Gln)</text>
<ellipse cx="101.25" cy="242.95" rx="4.7" ry="5.2" fill="#5aa83a" stroke="#151515" stroke-width="0.7"/>
<text x="101.25" y="244.61" font-size="4.6" text-anchor="middle" fill="#0a1a05" stroke="#0a1a05" stroke-width="0.12">1</text>
<text transform="translate(101.55,224.00) rotate(-61.0)" font-size="4.2" fill="#000" stroke="#000" stroke-width="0.14" textLength="41.16" lengthAdjust="spacingAndGlyphs">c.326-30_326-23del *</text>
<ellipse cx="114.40" cy="242.95" rx="4.7" ry="5.2" fill="#f4c51a" stroke="#151515" stroke-width="0.7"/>
<text x="114.40" y="244.61" font-size="4.6" text-anchor="middle" fill="#1a1400" stroke="#1a1400" stroke-width="0.12">3</text>
<text transform="translate(114.70,224.00) rotate(-61.0)" font-size="4.2" fill="#000" stroke="#000" stroke-width="0.14" textLength="45.96" lengthAdjust="spacingAndGlyphs">c.389T&gt;C(p.Leu130Ser)</text>
<ellipse cx="133.75" cy="242.95" rx="4.7" ry="5.2" fill="#b80f2e" stroke="#151515" stroke-width="0.7"/>
<text x="133.75" y="244.61" font-size="4.6" text-anchor="middle" fill="#fbe0e6" stroke="#fbe0e6" stroke-width="0.12">4</text>
<text transform="translate(134.05,224.00) rotate(-61.0)" font-size="4.2" fill="#000" stroke="#000" stroke-width="0.14" textLength="43.79" lengthAdjust="spacingAndGlyphs">c.481delG(p.Arg161fs) *</text>
<ellipse cx="146.00" cy="242.95" rx="4.7" ry="5.2" fill="#d0107f" stroke="#151515" stroke-width="0.7"/>
<text x="146.00" y="244.61" font-size="4.6" text-anchor="middle" fill="#fbe0ef" stroke="#fbe0ef" stroke-width="0.12">1</text>
<text transform="translate(146.30,224.00) rotate(-61.0)" font-size="4.2" fill="#000" stroke="#000" stroke-width="0.14" textLength="59.23" lengthAdjust="spacingAndGlyphs">c.539_540delinsAA(p.Cys180*) *</text>
<ellipse cx="155.00" cy="242.95" rx="4.7" ry="5.2" fill="#f4c51a" stroke="#151515" stroke-width="0.7"/>
<text x="155.00" y="244.61" font-size="4.6" text-anchor="middle" fill="#1a1400" stroke="#1a1400" stroke-width="0.12">1</text>
<text transform="translate(155.30,224.00) rotate(-61.0)" font-size="4.2" fill="#000" stroke="#000" stroke-width="0.14" textLength="51.11" lengthAdjust="spacingAndGlyphs">c.560C&gt;T(p.Pro187Leu) *</text>
<ellipse cx="180.60" cy="242.95" rx="4.7" ry="5.2" fill="#f4c51a" stroke="#151515" stroke-width="0.7"/>
<text x="180.60" y="244.61" font-size="4.6" text-anchor="middle" fill="#1a1400" stroke="#1a1400" stroke-width="0.12">2</text>
<text transform="translate(180.90,224.00) rotate(-61.0)" font-size="4.2" fill="#000" stroke="#000" stroke-width="0.14" textLength="50.42" lengthAdjust="spacingAndGlyphs">c.703C&gt;G(p.Arg235Gly) *</text>
<ellipse cx="190.60" cy="242.95" rx="4.7" ry="5.2" fill="#f4c51a" stroke="#151515" stroke-width="0.7"/>
<text x="190.60" y="244.61" font-size="4.6" text-anchor="middle" fill="#1a1400" stroke="#1a1400" stroke-width="0.12">1</text>
<text transform="translate(190.90,224.00) rotate(-61.0)" font-size="4.2" fill="#000" stroke="#000" stroke-width="0.14" textLength="47.56" lengthAdjust="spacingAndGlyphs">c.757C&gt;T(p.Arg253Trp) *</text>
<ellipse cx="224.40" cy="242.95" rx="4.7" ry="5.2" fill="#5aa83a" stroke="#151515" stroke-width="0.7"/>
<text x="224.40" y="244.61" font-size="4.6" text-anchor="middle" fill="#0a1a05" stroke="#0a1a05" stroke-width="0.12">1</text>
<text transform="translate(224.70,224.00) rotate(-61.0)" font-size="4.2" fill="#000" stroke="#000" stroke-width="0.14" textLength="25.15" lengthAdjust="spacingAndGlyphs">c.603+5G&gt;A</text>
<ellipse cx="255.60" cy="242.95" rx="4.7" ry="5.2" fill="#f4c51a" stroke="#151515" stroke-width="0.7"/>
<text x="255.60" y="244.61" font-size="4.6" text-anchor="middle" fill="#1a1400" stroke="#1a1400" stroke-width="0.12">1</text>
<text transform="translate(255.90,224.00) rotate(-61.0)" font-size="4.2" fill="#000" stroke="#000" stroke-width="0.14" textLength="53.28" lengthAdjust="spacingAndGlyphs">c.1057T&gt;C(p.Cys353Arg) *</text>
<ellipse cx="297.50" cy="242.95" rx="4.7" ry="5.2" fill="#5aa83a" stroke="#151515" stroke-width="0.7"/>
<text x="297.50" y="244.61" font-size="4.6" text-anchor="middle" fill="#0a1a05" stroke="#0a1a05" stroke-width="0.12">17</text>
<text transform="translate(297.80,224.00) rotate(-61.0)" font-size="4.2" fill="#000" stroke="#000" stroke-width="0.14" textLength="26.87" lengthAdjust="spacingAndGlyphs">c.1247-1G&gt;C</text>
<ellipse cx="333.40" cy="242.95" rx="4.7" ry="5.2" fill="#f4c51a" stroke="#151515" stroke-width="0.7"/>
<text x="333.40" y="244.61" font-size="4.6" text-anchor="middle" fill="#1a1400" stroke="#1a1400" stroke-width="0.12">33</text>
<text transform="translate(333.70,224.00) rotate(-61.0)" font-size="4.2" fill="#000" stroke="#000" stroke-width="0.14" textLength="47.56" lengthAdjust="spacingAndGlyphs">c.1430C&gt;T(p.Pro477Leu)</text>
<ellipse cx="342.50" cy="242.95" rx="4.7" ry="5.2" fill="#5aa83a" stroke="#151515" stroke-width="0.7"/>
<text x="342.50" y="244.61" font-size="4.6" text-anchor="middle" fill="#0a1a05" stroke="#0a1a05" stroke-width="0.12">4</text>
<text transform="translate(342.80,224.00) rotate(-61.0)" font-size="4.2" fill="#000" stroke="#000" stroke-width="0.14" textLength="28.24" lengthAdjust="spacingAndGlyphs">c.1430+1G&gt;A</text>
<ellipse cx="373.50" cy="242.95" rx="4.7" ry="5.2" fill="#f4c51a" stroke="#151515" stroke-width="0.7"/>
<text x="373.50" y="244.61" font-size="4.6" text-anchor="middle" fill="#1a1400" stroke="#1a1400" stroke-width="0.12">8</text>
<text transform="translate(373.80,224.00) rotate(-61.0)" font-size="4.2" fill="#000" stroke="#000" stroke-width="0.14" textLength="49.05" lengthAdjust="spacingAndGlyphs">c.1621G&gt;A(p.Gly541Ser)</text>
<ellipse cx="389.60" cy="242.95" rx="4.7" ry="5.2" fill="#5aa83a" stroke="#151515" stroke-width="0.7"/>
<text x="389.60" y="244.61" font-size="4.6" text-anchor="middle" fill="#0a1a05" stroke="#0a1a05" stroke-width="0.12">1</text>
<text transform="translate(389.90,224.00) rotate(-61.0)" font-size="4.2" fill="#000" stroke="#000" stroke-width="0.14" textLength="31.21" lengthAdjust="spacingAndGlyphs">c.1696+5G&gt;T *</text>
<ellipse cx="398.75" cy="242.95" rx="4.7" ry="5.2" fill="#f4c51a" stroke="#151515" stroke-width="0.7"/>
<text x="398.75" y="244.61" font-size="4.6" text-anchor="middle" fill="#1a1400" stroke="#1a1400" stroke-width="0.12">2</text>
<text transform="translate(399.05,224.00) rotate(-61.0)" font-size="4.2" fill="#000" stroke="#000" stroke-width="0.14" textLength="50.42" lengthAdjust="spacingAndGlyphs">c.1717C&gt;T(p.Pro573Ser) *</text>
<circle cx="437.70" cy="188.10" r="1.85" fill="#27457f" stroke="#111" stroke-width="0.75"/>
<text x="442.70" y="189.50" font-size="4.1" text-anchor="start" fill="#333" stroke="#333" stroke-width="0.05" >in-frame</text>
<circle cx="437.70" cy="194.60" r="1.85" fill="#b80f2e" stroke="#111" stroke-width="0.75"/>
<text x="442.70" y="196.00" font-size="4.1" text-anchor="start" fill="#333" stroke="#333" stroke-width="0.05" >frameshift</text>
<circle cx="437.70" cy="201.20" r="1.85" fill="#ffffff" stroke="#111" stroke-width="0.75"/>
<text x="442.70" y="202.60" font-size="4.1" text-anchor="start" fill="#333" stroke="#333" stroke-width="0.05" >deletion</text>
<circle cx="437.70" cy="207.70" r="1.85" fill="#f4c51a" stroke="#111" stroke-width="0.75"/>
<text x="442.70" y="209.10" font-size="4.1" text-anchor="start" fill="#333" stroke="#333" stroke-width="0.05" >missense</text>
<circle cx="437.70" cy="214.20" r="1.85" fill="#5aa83a" stroke="#111" stroke-width="0.75"/>
<text x="442.70" y="215.60" font-size="4.1" text-anchor="start" fill="#333" stroke="#333" stroke-width="0.05" >splicing</text>
<circle cx="437.70" cy="220.80" r="1.85" fill="#d0107f" stroke="#111" stroke-width="0.75"/>
<text x="442.70" y="222.20" font-size="4.1" text-anchor="start" fill="#333" stroke="#333" stroke-width="0.05" >nonsense</text>
<line x1="267.7" y1="279.9" x2="424.6" y2="279.9" stroke="#6a6a6a" stroke-width="0.8"/>
<line x1="267.7" y1="277.6" x2="267.7" y2="282.1" stroke="#555" stroke-width="0.8"/>
<line x1="424.6" y1="277.0" x2="424.6" y2="282.6" stroke="#555" stroke-width="0.8"/>
<circle cx="351.8" cy="275.5" r="3.2" fill="#fff" stroke="#333" stroke-width="0.7"/>
<text x="351.80" y="276.90" font-size="3.8" text-anchor="middle" fill="#444" stroke="#444" stroke-width="0.12" >1</text>
<text x="346.10" y="284.30" font-size="4.25" text-anchor="middle" fill="#222" stroke="#222" stroke-width="0.12" >Deletion of exon 14 - 19 *</text>
<text x="13.80" y="287.30" font-size="5.1" text-anchor="start" fill="#222" stroke="#222" stroke-width="0.12" >Domains</text>
<text x="16.90" y="296.70" font-size="5.1" text-anchor="start" fill="#222" stroke="#222" stroke-width="0.12" >N ter-</text>
<rect x="34.80" y="288.80" width="367.50" height="10.10" fill="#aab980"/>
<text x="218.55" y="295.67" font-size="5.2" text-anchor="middle" fill="#222" stroke="#222" stroke-width="0.12" >Sec1-like protein</text>
<text x="410.50" y="295.60" font-size="5.1" text-anchor="start" fill="#222" stroke="#222" stroke-width="0.12" >-C ter</text>
<text x="35.20" y="304.40" font-size="4.4" text-anchor="start" fill="#222" stroke="#222" stroke-width="0.12" >5</text>
<text x="402.30" y="304.40" font-size="4.4" text-anchor="end" fill="#222" stroke="#222" stroke-width="0.12" >586</text>
<text x="201.00" y="320.20" font-size="9.35" text-anchor="start" fill="#111" stroke="#111" stroke-width="0.1" font-style="italic">STXBP2</text>
<text x="7.20" y="347.30" font-size="11.2" text-anchor="start" fill="#000" font-weight="bold" stroke="#000" stroke-width="0.35">C</text>
<rect x="21.00" y="452.25" width="41.00" height="6.25" rx="1.2" fill="#c7c5cb" stroke="#4a4a4a" stroke-width="0.9"/>
<text x="41.50" y="456.90" font-size="4.0" text-anchor="middle" fill="#333" stroke="#333" stroke-width="0.12" >5' UTR</text>
<rect x="409.00" y="452.30" width="77.90" height="6.30" rx="1.2" fill="#c7c5cb" stroke="#4a4a4a" stroke-width="0.9"/>
<text x="446.50" y="456.90" font-size="4.0" text-anchor="middle" fill="#333" stroke="#333" stroke-width="0.12" >3' UTR</text>
<rect x="61.50" y="449.00" width="348.10" height="12.50" rx="1.0" fill="#c7c5cb" stroke="#4a4a4a" stroke-width="0.9"/>
<line x1="62.10" y1="449.95" x2="409.00" y2="449.95" stroke="#d4d2d7" stroke-width="0.5"/>
<line x1="62.10" y1="460.50" x2="409.00" y2="460.50" stroke="#d0ced3" stroke-width="0.5"/>
<line x1="73.40" y1="449.00" x2="73.40" y2="461.50" stroke="#4a4a4a" stroke-width="0.8"/>
<line x1="77.42" y1="449.00" x2="77.42" y2="461.50" stroke="#4a4a4a" stroke-width="1.2"/>
<line x1="89.50" y1="449.00" x2="89.50" y2="461.50" stroke="#4a4a4a" stroke-width="1.2"/>
<line x1="95.17" y1="449.00" x2="95.17" y2="461.50" stroke="#4a4a4a" stroke-width="1.2"/>
<line x1="102.33" y1="449.00" x2="102.33" y2="461.50" stroke="#4a4a4a" stroke-width="1.2"/>
<line x1="121.67" y1="449.00" x2="121.67" y2="461.50" stroke="#4a4a4a" stroke-width="1.2"/>
<line x1="126.58" y1="449.00" x2="126.58" y2="461.50" stroke="#4a4a4a" stroke-width="1.2"/>
<line x1="134.25" y1="449.00" x2="134.25" y2="461.50" stroke="#4a4a4a" stroke-width="1.2"/>
<line x1="141.45" y1="449.00" x2="141.45" y2="461.50" stroke="#4a4a4a" stroke-width="1.2"/>
<line x1="152.80" y1="449.00" x2="152.80" y2="461.50" stroke="#4a4a4a" stroke-width="1.2"/>
<line x1="162.68" y1="449.00" x2="162.68" y2="461.50" stroke="#4a4a4a" stroke-width="1.2"/>
<line x1="174.18" y1="449.00" x2="174.18" y2="461.50" stroke="#4a4a4a" stroke-width="1.2"/>
<line x1="186.57" y1="449.00" x2="186.57" y2="461.50" stroke="#4a4a4a" stroke-width="1.2"/>
<line x1="199.38" y1="449.00" x2="199.38" y2="461.50" stroke="#4a4a4a" stroke-width="1.2"/>
<line x1="209.70" y1="449.00" x2="209.70" y2="461.50" stroke="#4a4a4a" stroke-width="1.2"/>
<line x1="215.30" y1="449.00" x2="215.30" y2="461.50" stroke="#4a4a4a" stroke-width="1.2"/>
<line x1="225.62" y1="449.00" x2="225.62" y2="461.50" stroke="#4a4a4a" stroke-width="1.2"/>
<line x1="231.30" y1="449.00" x2="231.30" y2="461.50" stroke="#4a4a4a" stroke-width="1.2"/>
<line x1="245.45" y1="449.00" x2="245.45" y2="461.50" stroke="#4a4a4a" stroke-width="1.2"/>
<line x1="258.12" y1="449.00" x2="258.12" y2="461.50" stroke="#4a4a4a" stroke-width="1.2"/>
<line x1="273.75" y1="449.00" x2="273.75" y2="461.50" stroke="#4a4a4a" stroke-width="1.2"/>
<line x1="283.95" y1="449.00" x2="283.95" y2="461.50" stroke="#4a4a4a" stroke-width="1.2"/>
<line x1="305.62" y1="449.00" x2="305.62" y2="461.50" stroke="#4a4a4a" stroke-width="1.2"/>
<line x1="313.43" y1="449.00" x2="313.43" y2="461.50" stroke="#4a4a4a" stroke-width="1.2"/>
<line x1="321.57" y1="449.00" x2="321.57" y2="461.50" stroke="#4a4a4a" stroke-width="1.2"/>
<line x1="333.43" y1="449.00" x2="333.43" y2="461.50" stroke="#4a4a4a" stroke-width="1.2"/>
<line x1="340.70" y1="449.00" x2="340.70" y2="461.50" stroke="#4a4a4a" stroke-width="1.2"/>
<line x1="349.55" y1="449.00" x2="349.55" y2="461.50" stroke="#4a4a4a" stroke-width="1.2"/>
<line x1="362.68" y1="449.00" x2="362.68" y2="461.50" stroke="#4a4a4a" stroke-width="1.2"/>
<line x1="375.75" y1="449.00" x2="375.75" y2="461.50" stroke="#4a4a4a" stroke-width="1.2"/>
<line x1="396.80" y1="449.00" x2="396.80" y2="461.50" stroke="#4a4a4a" stroke-width="1.2"/>
<text x="67.40" y="456.83" font-size="4.4" text-anchor="middle" fill="#3a3a3a" stroke="#3a3a3a" stroke-width="0.12" >1</text>
<text x="75.30" y="456.40" font-size="3.2" text-anchor="middle" fill="#3a3a3a" stroke="#3a3a3a" stroke-width="0.12" >2</text>
<text x="83.38" y="456.83" font-size="4.4" text-anchor="middle" fill="#3a3a3a" stroke="#3a3a3a" stroke-width="0.12" >3</text>
<text x="92.38" y="456.40" font-size="3.2" text-anchor="middle" fill="#3a3a3a" stroke="#3a3a3a" stroke-width="0.12" >4</text>
<text x="98.75" y="456.83" font-size="4.4" text-anchor="middle" fill="#3a3a3a" stroke="#3a3a3a" stroke-width="0.12" >5</text>
<text x="112.00" y="456.83" font-size="4.4" text-anchor="middle" fill="#3a3a3a" stroke="#3a3a3a" stroke-width="0.12" >6</text>
<text x="124.17" y="456.40" font-size="3.2" text-anchor="middle" fill="#3a3a3a" stroke="#3a3a3a" stroke-width="0.12" >7</text>
<text x="130.32" y="456.83" font-size="4.4" text-anchor="middle" fill="#3a3a3a" stroke="#3a3a3a" stroke-width="0.12" >8</text>
<text x="137.88" y="456.83" font-size="4.4" text-anchor="middle" fill="#3a3a3a" stroke="#3a3a3a" stroke-width="0.12" >9</text>
<text x="147.20" y="456.83" font-size="4.4" text-anchor="middle" fill="#3a3a3a" stroke="#3a3a3a" stroke-width="0.12" >10</text>
<text x="157.68" y="456.83" font-size="4.4" text-anchor="middle" fill="#3a3a3a" stroke="#3a3a3a" stroke-width="0.12" >11</text>
<text x="168.43" y="456.83" font-size="4.4" text-anchor="middle" fill="#3a3a3a" stroke="#3a3a3a" stroke-width="0.12" >12</text>
<text x="180.43" y="456.83" font-size="4.4" text-anchor="middle" fill="#3a3a3a" stroke="#3a3a3a" stroke-width="0.12" >13</text>
<text x="192.95" y="456.83" font-size="4.4" text-anchor="middle" fill="#3a3a3a" stroke="#3a3a3a" stroke-width="0.12" >14</text>
<text x="204.57" y="456.83" font-size="4.4" text-anchor="middle" fill="#3a3a3a" stroke="#3a3a3a" stroke-width="0.12" >15</text>
<text x="212.50" y="456.40" font-size="3.2" text-anchor="middle" fill="#3a3a3a" stroke="#3a3a3a" stroke-width="0.12" >16</text>
<text x="220.43" y="456.83" font-size="4.4" text-anchor="middle" fill="#3a3a3a" stroke="#3a3a3a" stroke-width="0.12" >17</text>
<text x="228.50" y="456.40" font-size="3.2" text-anchor="middle" fill="#3a3a3a" stroke="#3a3a3a" stroke-width="0.12" >18</text>
<text x="238.30" y="456.83" font-size="4.4" text-anchor="middle" fill="#3a3a3a" stroke="#3a3a3a" stroke-width="0.12" >19</text>
<text x="251.82" y="456.83" font-size="4.4" text-anchor="middle" fill="#3a3a3a" stroke="#3a3a3a" stroke-width="0.12" >20</text>
<text x="266.00" y="456.83" font-size="4.4" text-anchor="middle" fill="#3a3a3a" stroke="#3a3a3a" stroke-width="0.12" >21</text>
<text x="278.75" y="456.83" font-size="4.4" text-anchor="middle" fill="#3a3a3a" stroke="#3a3a3a" stroke-width="0.12" >22</text>
<text x="294.82" y="456.83" font-size="4.4" text-anchor="middle" fill="#3a3a3a" stroke="#3a3a3a" stroke-width="0.12" >23</text>
<text x="309.55" y="456.83" font-size="4.4" text-anchor="middle" fill="#3a3a3a" stroke="#3a3a3a" stroke-width="0.12" >24</text>
<text x="317.50" y="456.83" font-size="4.4" text-anchor="middle" fill="#3a3a3a" stroke="#3a3a3a" stroke-width="0.12" >25</text>
<text x="327.50" y="456.83" font-size="4.4" text-anchor="middle" fill="#3a3a3a" stroke="#3a3a3a" stroke-width="0.12" >26</text>
<text x="337.07" y="456.83" font-size="4.4" text-anchor="middle" fill="#3a3a3a" stroke="#3a3a3a" stroke-width="0.12" >27</text>
<text x="345.05" y="456.83" font-size="4.4" text-anchor="middle" fill="#3a3a3a" stroke="#3a3a3a" stroke-width="0.12" >28</text>
<text x="356.12" y="456.83" font-size="4.4" text-anchor="middle" fill="#3a3a3a" stroke="#3a3a3a" stroke-width="0.12" >29</text>
<text x="369.18" y="456.83" font-size="4.4" text-anchor="middle" fill="#3a3a3a" stroke="#3a3a3a" stroke-width="0.12" >30</text>
<text x="386.38" y="456.83" font-size="4.4" text-anchor="middle" fill="#3a3a3a" stroke="#3a3a3a" stroke-width="0.12" >31</text>
<text x="403.35" y="456.83" font-size="4.4" text-anchor="middle" fill="#3a3a3a" stroke="#3a3a3a" stroke-width="0.12" >32</text>
<line x1="73.50" y1="419.00" x2="73.50" y2="430.50" stroke="#5a5a5a" stroke-width="0.7"/>
<polyline points="73.50,438.20 73.50,442.60 73.50,449.00" fill="none" stroke="#4a4a4a" stroke-width="0.6"/>
<line x1="80.60" y1="419.00" x2="80.60" y2="430.50" stroke="#5a5a5a" stroke-width="0.7"/>
<polyline points="80.60,438.20 80.60,442.60 75.50,449.00" fill="none" stroke="#4a4a4a" stroke-width="0.6"/>
<line x1="87.50" y1="419.00" x2="87.50" y2="430.50" stroke="#5a5a5a" stroke-width="0.7"/>
<polyline points="87.50,438.20 87.50,442.60 77.50,449.00" fill="none" stroke="#4a4a4a" stroke-width="0.6"/>
<line x1="94.40" y1="419.00" x2="94.40" y2="430.50" stroke="#5a5a5a" stroke-width="0.7"/>
<polyline points="94.40,438.20 94.40,442.60 80.00,449.00" fill="none" stroke="#4a4a4a" stroke-width="0.6"/>
<line x1="101.25" y1="419.00" x2="101.25" y2="430.50" stroke="#5a5a5a" stroke-width="0.7"/>
<polyline points="101.25,438.20 101.25,442.60 84.00,449.00" fill="none" stroke="#4a4a4a" stroke-width="0.6"/>
<line x1="108.10" y1="419.00" x2="108.10" y2="430.50" stroke="#5a5a5a" stroke-width="0.7"/>
<polyline points="108.10,438.20 108.10,441.80 88.00,449.00" fill="none" stroke="#4a4a4a" stroke-width="0.6"/>
<line x1="115.25" y1="419.00" x2="115.25" y2="430.50" stroke="#5a5a5a" stroke-width="0.7"/>
<polyline points="115.25,438.20 115.25,441.80 91.00,449.00" fill="none" stroke="#4a4a4a" stroke-width="0.6"/>
<line x1="121.90" y1="419.00" x2="121.90" y2="430.50" stroke="#5a5a5a" stroke-width="0.7"/>
<polyline points="121.90,438.20 121.90,441.80 96.00,449.00" fill="none" stroke="#4a4a4a" stroke-width="0.6"/>
<line x1="128.50" y1="419.00" x2="128.50" y2="430.50" stroke="#5a5a5a" stroke-width="0.7"/>
<polyline points="128.50,438.20 128.50,441.80 100.00,449.00" fill="none" stroke="#4a4a4a" stroke-width="0.6"/>
<line x1="136.25" y1="419.00" x2="136.25" y2="430.50" stroke="#5a5a5a" stroke-width="0.7"/>
<polyline points="136.25,438.20 136.25,441.80 105.00,449.00" fill="none" stroke="#4a4a4a" stroke-width="0.6"/>
<line x1="143.10" y1="419.00" x2="143.10" y2="430.50" stroke="#5a5a5a" stroke-width="0.7"/>
<polyline points="143.10,438.20 143.10,441.80 110.00,449.00" fill="none" stroke="#4a4a4a" stroke-width="0.6"/>
<line x1="150.00" y1="419.00" x2="150.00" y2="430.50" stroke="#5a5a5a" stroke-width="0.7"/>
<polyline points="150.00,438.20 150.00,441.80 116.00,449.00" fill="none" stroke="#4a4a4a" stroke-width="0.6"/>
<line x1="157.10" y1="419.00" x2="157.10" y2="430.50" stroke="#5a5a5a" stroke-width="0.7"/>
<polyline points="157.10,438.20 157.10,441.80 122.00,449.00" fill="none" stroke="#4a4a4a" stroke-width="0.6"/>
<line x1="164.00" y1="419.00" x2="164.00" y2="430.50" stroke="#5a5a5a" stroke-width="0.7"/>
<polyline points="164.00,438.20 164.00,441.80 130.00,449.00" fill="none" stroke="#4a4a4a" stroke-width="0.6"/>
<line x1="170.90" y1="419.00" x2="170.90" y2="430.50" stroke="#5a5a5a" stroke-width="0.7"/>
<polyline points="170.90,438.20 170.90,441.80 138.00,449.00" fill="none" stroke="#4a4a4a" stroke-width="0.6"/>
<line x1="177.90" y1="419.00" x2="177.90" y2="430.50" stroke="#5a5a5a" stroke-width="0.7"/>
<polyline points="177.90,438.20 177.90,441.80 146.00,449.00" fill="none" stroke="#4a4a4a" stroke-width="0.6"/>
<line x1="184.75" y1="419.00" x2="184.75" y2="430.50" stroke="#5a5a5a" stroke-width="0.7"/>
<polyline points="184.75,438.20 184.75,441.80 160.00,449.00" fill="none" stroke="#4a4a4a" stroke-width="0.6"/>
<line x1="191.90" y1="419.00" x2="191.90" y2="430.50" stroke="#5a5a5a" stroke-width="0.7"/>
<polyline points="191.90,438.20 191.90,442.60 172.00,449.00" fill="none" stroke="#4a4a4a" stroke-width="0.6"/>
<line x1="199.00" y1="419.00" x2="199.00" y2="430.50" stroke="#5a5a5a" stroke-width="0.7"/>
<polyline points="199.00,438.20 199.00,442.60 180.00,449.00" fill="none" stroke="#4a4a4a" stroke-width="0.6"/>
<line x1="205.90" y1="419.00" x2="205.90" y2="430.50" stroke="#5a5a5a" stroke-width="0.7"/>
<polyline points="205.90,438.20 205.90,442.60 194.60,449.00" fill="none" stroke="#4a4a4a" stroke-width="0.6"/>
<line x1="212.90" y1="419.00" x2="212.90" y2="430.50" stroke="#5a5a5a" stroke-width="0.7"/>
<polyline points="212.90,438.20 212.90,442.60 197.50,449.00" fill="none" stroke="#4a4a4a" stroke-width="0.6"/>
<line x1="219.75" y1="419.00" x2="219.75" y2="430.50" stroke="#5a5a5a" stroke-width="0.7"/>
<polyline points="219.75,438.20 219.75,442.60 209.00,449.00" fill="none" stroke="#4a4a4a" stroke-width="0.6"/>
<line x1="226.60" y1="419.00" x2="226.60" y2="430.50" stroke="#5a5a5a" stroke-width="0.7"/>
<polyline points="226.60,438.20 226.60,442.60 212.90,449.00" fill="none" stroke="#4a4a4a" stroke-width="0.6"/>
<line x1="233.75" y1="419.00" x2="233.75" y2="430.50" stroke="#5a5a5a" stroke-width="0.7"/>
<polyline points="233.75,438.20 233.75,442.60 216.70,449.00" fill="none" stroke="#4a4a4a" stroke-width="0.6"/>
<line x1="246.60" y1="419.00" x2="246.60" y2="430.50" stroke="#5a5a5a" stroke-width="0.7"/>
<polyline points="246.60,438.20 246.60,442.60 248.70,449.00" fill="none" stroke="#4a4a4a" stroke-width="0.6"/>
<line x1="253.50" y1="419.00" x2="253.50" y2="430.50" stroke="#5a5a5a" stroke-width="0.7"/>
<polyline points="253.50,438.20 253.50,442.60 251.50,449.00" fill="none" stroke="#4a4a4a" stroke-width="0.6"/>
<line x1="260.40" y1="419.00" x2="260.40" y2="430.50" stroke="#5a5a5a" stroke-width="0.7"/>
<polyline points="260.40,438.20 260.40,442.60 255.00,449.00" fill="none" stroke="#4a4a4a" stroke-width="0.6"/>
<line x1="267.25" y1="419.00" x2="267.25" y2="430.50" stroke="#5a5a5a" stroke-width="0.7"/>
<polyline points="267.25,438.20 267.25,442.60 257.90,449.00" fill="none" stroke="#4a4a4a" stroke-width="0.6"/>
<line x1="279.10" y1="419.00" x2="279.10" y2="430.50" stroke="#5a5a5a" stroke-width="0.7"/>
<polyline points="279.10,438.20 279.10,442.60 279.10,449.00" fill="none" stroke="#4a4a4a" stroke-width="0.6"/>
<line x1="298.50" y1="419.00" x2="298.50" y2="430.50" stroke="#5a5a5a" stroke-width="0.7"/>
<polyline points="298.50,438.20 298.50,442.60 303.50,449.00" fill="none" stroke="#4a4a4a" stroke-width="0.6"/>
<line x1="305.40" y1="419.00" x2="305.40" y2="430.50" stroke="#5a5a5a" stroke-width="0.7"/>
<polyline points="305.40,438.20 305.40,442.60 305.40,449.00" fill="none" stroke="#4a4a4a" stroke-width="0.6"/>
<line x1="312.25" y1="419.00" x2="312.25" y2="430.50" stroke="#5a5a5a" stroke-width="0.7"/>
<polyline points="312.25,438.20 312.25,442.60 308.00,449.00" fill="none" stroke="#4a4a4a" stroke-width="0.6"/>
<line x1="319.40" y1="419.00" x2="319.40" y2="430.50" stroke="#5a5a5a" stroke-width="0.7"/>
<polyline points="319.40,438.20 319.40,442.60 311.50,449.00" fill="none" stroke="#4a4a4a" stroke-width="0.6"/>
<line x1="326.25" y1="419.00" x2="326.25" y2="430.50" stroke="#5a5a5a" stroke-width="0.7"/>
<polyline points="326.25,438.20 326.25,442.60 321.50,449.00" fill="none" stroke="#4a4a4a" stroke-width="0.6"/>
<line x1="333.40" y1="419.00" x2="333.40" y2="430.50" stroke="#5a5a5a" stroke-width="0.7"/>
<polyline points="333.40,438.20 333.40,442.60 333.40,449.00" fill="none" stroke="#4a4a4a" stroke-width="0.6"/>
<line x1="340.25" y1="419.00" x2="340.25" y2="430.50" stroke="#5a5a5a" stroke-width="0.7"/>
<polyline points="340.25,438.20 340.25,442.60 336.50,449.00" fill="none" stroke="#4a4a4a" stroke-width="0.6"/>
<line x1="347.25" y1="419.00" x2="347.25" y2="430.50" stroke="#5a5a5a" stroke-width="0.7"/>
<polyline points="347.25,438.20 347.25,442.60 347.25,449.00" fill="none" stroke="#4a4a4a" stroke-width="0.6"/>
<line x1="357.90" y1="419.00" x2="357.90" y2="430.50" stroke="#5a5a5a" stroke-width="0.7"/>
<polyline points="357.90,438.20 357.90,442.60 361.00,449.00" fill="none" stroke="#4a4a4a" stroke-width="0.6"/>
<line x1="364.75" y1="419.00" x2="364.75" y2="430.50" stroke="#5a5a5a" stroke-width="0.7"/>
<polyline points="364.75,438.20 364.75,442.60 366.00,449.00" fill="none" stroke="#4a4a4a" stroke-width="0.6"/>
<line x1="381.90" y1="419.00" x2="381.90" y2="430.50" stroke="#5a5a5a" stroke-width="0.7"/>
<polyline points="381.90,438.20 381.90,442.60 384.00,449.00" fill="none" stroke="#4a4a4a" stroke-width="0.6"/>
<line x1="388.75" y1="419.00" x2="388.75" y2="430.50" stroke="#5a5a5a" stroke-width="0.7"/>
<polyline points="388.75,438.20 388.75,442.60 385.50,449.00" fill="none" stroke="#4a4a4a" stroke-width="0.6"/>
<line x1="395.60" y1="419.00" x2="395.60" y2="430.50" stroke="#5a5a5a" stroke-width="0.7"/>
<polyline points="395.60,438.20 395.60,442.60 387.00,449.00" fill="none" stroke="#4a4a4a" stroke-width="0.6"/>
<line x1="402.75" y1="419.00" x2="402.75" y2="430.50" stroke="#5a5a5a" stroke-width="0.7"/>
<polyline points="402.75,438.20 402.75,442.60 389.00,449.00" fill="none" stroke="#4a4a4a" stroke-width="0.6"/>
<line x1="409.75" y1="419.00" x2="409.75" y2="430.50" stroke="#5a5a5a" stroke-width="0.7"/>
<polyline points="409.75,438.20 409.75,442.60 401.00,449.00" fill="none" stroke="#4a4a4a" stroke-width="0.6"/>
<ellipse cx="73.50" cy="434.40" rx="3.2" ry="3.9" fill="#5aa83a" stroke="#151515" stroke-width="0.7"/>
<text x="73.50" y="435.77" font-size="3.8" text-anchor="middle" fill="#0a1a05" stroke="#0a1a05" stroke-width="0.12">1</text>
<text transform="translate(73.80,418.30) rotate(-61.0)" font-size="4.2" fill="#000" stroke="#000" stroke-width="0.14" textLength="27.44" lengthAdjust="spacingAndGlyphs">c.118-308C&gt;A</text>
<ellipse cx="80.60" cy="434.40" rx="3.2" ry="3.9" fill="#5aa83a" stroke="#151515" stroke-width="0.7"/>
<text x="80.60" y="435.77" font-size="3.8" text-anchor="middle" fill="#0a1a05" stroke="#0a1a05" stroke-width="0.12">1</text>
<text transform="translate(80.90,418.30) rotate(-61.0)" font-size="4.2" fill="#000" stroke="#000" stroke-width="0.14" textLength="28.36" lengthAdjust="spacingAndGlyphs">c.118-307G&gt;A</text>
<ellipse cx="87.50" cy="434.40" rx="3.2" ry="3.9" fill="#5aa83a" stroke="#151515" stroke-width="0.7"/>
<text x="87.50" y="435.77" font-size="3.8" text-anchor="middle" fill="#0a1a05" stroke="#0a1a05" stroke-width="0.12">1</text>
<text transform="translate(87.80,418.30) rotate(-61.0)" font-size="4.2" fill="#000" stroke="#000" stroke-width="0.14" textLength="26.07" lengthAdjust="spacingAndGlyphs">c.154-1G&gt;C *</text>
<ellipse cx="94.40" cy="434.40" rx="3.2" ry="3.9" fill="#f4c51a" stroke="#151515" stroke-width="0.7"/>
<text x="94.40" y="435.77" font-size="3.8" text-anchor="middle" fill="#1a1400" stroke="#1a1400" stroke-width="0.12">1</text>
<text transform="translate(94.70,418.30) rotate(-61.0)" font-size="4.2" fill="#000" stroke="#000" stroke-width="0.14" textLength="42.30" lengthAdjust="spacingAndGlyphs">c.182A&gt;G(p.Tyr61Cys)</text>
<ellipse cx="101.25" cy="434.40" rx="3.2" ry="3.9" fill="#d0107f" stroke="#151515" stroke-width="0.7"/>
<text x="101.25" y="435.77" font-size="3.8" text-anchor="middle" fill="#fbe0ef" stroke="#fbe0ef" stroke-width="0.12">1</text>
<text transform="translate(101.55,418.30) rotate(-61.0)" font-size="4.2" fill="#000" stroke="#000" stroke-width="0.14" textLength="37.96" lengthAdjust="spacingAndGlyphs">c.247C&gt;T(p.Arg83*)</text>
<ellipse cx="108.10" cy="434.40" rx="3.2" ry="3.9" fill="#5aa83a" stroke="#151515" stroke-width="0.7"/>
<text x="108.10" y="435.77" font-size="3.8" text-anchor="middle" fill="#0a1a05" stroke="#0a1a05" stroke-width="0.12">1</text>
<text transform="translate(108.40,418.30) rotate(-61.0)" font-size="4.2" fill="#000" stroke="#000" stroke-width="0.14" textLength="25.61" lengthAdjust="spacingAndGlyphs">c.253-1G&gt;A *</text>
<ellipse cx="115.25" cy="434.40" rx="3.2" ry="3.9" fill="#5aa83a" stroke="#151515" stroke-width="0.7"/>
<text x="115.25" y="435.77" font-size="3.8" text-anchor="middle" fill="#0a1a05" stroke="#0a1a05" stroke-width="0.12">1</text>
<text transform="translate(115.55,418.30) rotate(-61.0)" font-size="4.2" fill="#000" stroke="#000" stroke-width="0.14" textLength="38.87" lengthAdjust="spacingAndGlyphs">c.331+1_331+2del *</text>
<ellipse cx="121.90" cy="434.40" rx="3.2" ry="3.9" fill="#5aa83a" stroke="#151515" stroke-width="0.7"/>
<text x="121.90" y="435.77" font-size="3.8" text-anchor="middle" fill="#0a1a05" stroke="#0a1a05" stroke-width="0.12">1</text>
<text transform="translate(122.20,418.30) rotate(-61.0)" font-size="4.2" fill="#000" stroke="#000" stroke-width="0.14" textLength="24.70" lengthAdjust="spacingAndGlyphs">c.332-3A&gt;T *</text>
<ellipse cx="128.50" cy="434.40" rx="3.2" ry="3.9" fill="#f4c51a" stroke="#151515" stroke-width="0.7"/>
<text x="128.50" y="435.77" font-size="3.8" text-anchor="middle" fill="#1a1400" stroke="#1a1400" stroke-width="0.12">1</text>
<text transform="translate(128.80,418.30) rotate(-61.0)" font-size="4.2" fill="#000" stroke="#000" stroke-width="0.14" textLength="42.30" lengthAdjust="spacingAndGlyphs">c.415C&gt;T(p.Ser139Pro)</text>
<ellipse cx="136.25" cy="434.40" rx="3.2" ry="3.9" fill="#b80f2e" stroke="#151515" stroke-width="0.7"/>
<text x="136.25" y="435.77" font-size="3.8" text-anchor="middle" fill="#fbe0e6" stroke="#fbe0e6" stroke-width="0.12">2</text>
<text transform="translate(136.55,418.30) rotate(-61.0)" font-size="4.2" fill="#000" stroke="#000" stroke-width="0.14" textLength="44.13" lengthAdjust="spacingAndGlyphs">c.434delA(p.Gln145fs) *</text>
<ellipse cx="143.10" cy="434.40" rx="3.2" ry="3.9" fill="#f4c51a" stroke="#151515" stroke-width="0.7"/>
<text x="143.10" y="435.77" font-size="3.8" text-anchor="middle" fill="#1a1400" stroke="#1a1400" stroke-width="0.12">1</text>
<text transform="translate(143.40,418.30) rotate(-61.0)" font-size="4.2" fill="#000" stroke="#000" stroke-width="0.14" textLength="44.93" lengthAdjust="spacingAndGlyphs">c.460C&gt;T(p.Arg154Trp)</text>
<ellipse cx="150.00" cy="434.40" rx="3.2" ry="3.9" fill="#f4c51a" stroke="#151515" stroke-width="0.7"/>
<text x="150.00" y="435.77" font-size="3.8" text-anchor="middle" fill="#1a1400" stroke="#1a1400" stroke-width="0.12">1</text>
<text transform="translate(150.30,418.30) rotate(-61.0)" font-size="4.2" fill="#000" stroke="#000" stroke-width="0.14" textLength="47.56" lengthAdjust="spacingAndGlyphs">c.518C&gt;T(p.Thr173Met) *</text>
<ellipse cx="157.10" cy="434.40" rx="3.2" ry="3.9" fill="#d0107f" stroke="#151515" stroke-width="0.7"/>
<text x="157.10" y="435.77" font-size="3.8" text-anchor="middle" fill="#fbe0ef" stroke="#fbe0ef" stroke-width="0.12">2</text>
<text transform="translate(157.40,418.30) rotate(-61.0)" font-size="4.2" fill="#000" stroke="#000" stroke-width="0.14" textLength="41.50" lengthAdjust="spacingAndGlyphs">c.551G&gt;A(p.Trp184*)</text>
<ellipse cx="164.00" cy="434.40" rx="3.2" ry="3.9" fill="#5aa83a" stroke="#151515" stroke-width="0.7"/>
<text x="164.00" y="435.77" font-size="3.8" text-anchor="middle" fill="#0a1a05" stroke="#0a1a05" stroke-width="0.12">1</text>
<text transform="translate(164.30,418.30) rotate(-61.0)" font-size="4.2" fill="#000" stroke="#000" stroke-width="0.14" textLength="22.07" lengthAdjust="spacingAndGlyphs">c.570-5A&gt;T</text>
<ellipse cx="170.90" cy="434.40" rx="3.2" ry="3.9" fill="#5aa83a" stroke="#151515" stroke-width="0.7"/>
<text x="170.90" y="435.77" font-size="3.8" text-anchor="middle" fill="#0a1a05" stroke="#0a1a05" stroke-width="0.12">3</text>
<text transform="translate(171.20,418.30) rotate(-61.0)" font-size="4.2" fill="#000" stroke="#000" stroke-width="0.14" textLength="23.90" lengthAdjust="spacingAndGlyphs">c.753+1G&gt;T</text>
<ellipse cx="177.90" cy="434.40" rx="3.2" ry="3.9" fill="#d0107f" stroke="#151515" stroke-width="0.7"/>
<text x="177.90" y="435.77" font-size="3.8" text-anchor="middle" fill="#fbe0ef" stroke="#fbe0ef" stroke-width="0.12">3</text>
<text transform="translate(178.20,418.30) rotate(-61.0)" font-size="4.2" fill="#000" stroke="#000" stroke-width="0.14" textLength="40.59" lengthAdjust="spacingAndGlyphs">c.766C&gt;T(p.Arg256*)</text>
<ellipse cx="184.75" cy="434.40" rx="3.2" ry="3.9" fill="#f4c51a" stroke="#151515" stroke-width="0.7"/>
<text x="184.75" y="435.77" font-size="3.8" text-anchor="middle" fill="#1a1400" stroke="#1a1400" stroke-width="0.12">5</text>
<text transform="translate(185.05,418.30) rotate(-61.0)" font-size="4.2" fill="#000" stroke="#000" stroke-width="0.14" textLength="46.76" lengthAdjust="spacingAndGlyphs">c.778C&gt;T(p.Gln260*) *</text>
<ellipse cx="191.90" cy="434.40" rx="3.2" ry="3.9" fill="#b80f2e" stroke="#151515" stroke-width="0.7"/>
<text x="191.90" y="435.77" font-size="3.8" text-anchor="middle" fill="#fbe0e6" stroke="#fbe0e6" stroke-width="0.12">2</text>
<text transform="translate(192.20,418.30) rotate(-61.0)" font-size="4.2" fill="#000" stroke="#000" stroke-width="0.14" textLength="41.50" lengthAdjust="spacingAndGlyphs">c.888delA(p.Arg296fs) *</text>
<ellipse cx="199.00" cy="434.40" rx="3.2" ry="3.9" fill="#5aa83a" stroke="#151515" stroke-width="0.7"/>
<text x="199.00" y="435.77" font-size="3.8" text-anchor="middle" fill="#0a1a05" stroke="#0a1a05" stroke-width="0.12">5</text>
<text transform="translate(199.30,418.30) rotate(-61.0)" font-size="4.2" fill="#000" stroke="#000" stroke-width="0.14" textLength="26.53" lengthAdjust="spacingAndGlyphs">c.1055+1G&gt;T</text>
<ellipse cx="205.90" cy="434.40" rx="3.2" ry="3.9" fill="#b80f2e" stroke="#151515" stroke-width="0.7"/>
<text x="205.90" y="435.77" font-size="3.8" text-anchor="middle" fill="#fbe0e6" stroke="#fbe0e6" stroke-width="0.12">1</text>
<text transform="translate(206.20,418.30) rotate(-61.0)" font-size="4.2" fill="#000" stroke="#000" stroke-width="0.14" textLength="58.20" lengthAdjust="spacingAndGlyphs">c.1228_1229delG(p.Arg411fs) *</text>
<ellipse cx="212.90" cy="434.40" rx="3.2" ry="3.9" fill="#b80f2e" stroke="#151515" stroke-width="0.7"/>
<text x="212.90" y="435.77" font-size="3.8" text-anchor="middle" fill="#fbe0e6" stroke="#fbe0e6" stroke-width="0.12">1</text>
<text transform="translate(213.20,418.30) rotate(-61.0)" font-size="4.2" fill="#000" stroke="#000" stroke-width="0.14" textLength="56.37" lengthAdjust="spacingAndGlyphs">c.1258_1260del(p.Ser420fs) *</text>
<ellipse cx="219.75" cy="434.40" rx="3.2" ry="3.9" fill="#d0107f" stroke="#151515" stroke-width="0.7"/>
<text x="219.75" y="435.77" font-size="3.8" text-anchor="middle" fill="#fbe0ef" stroke="#fbe0ef" stroke-width="0.12">1</text>
<text transform="translate(220.05,418.30) rotate(-61.0)" font-size="4.2" fill="#000" stroke="#000" stroke-width="0.14" textLength="42.30" lengthAdjust="spacingAndGlyphs">c.1287C&gt;T(p.Gln429*)</text>
<ellipse cx="226.60" cy="434.40" rx="3.2" ry="3.9" fill="#5aa83a" stroke="#151515" stroke-width="0.7"/>
<text x="226.60" y="435.77" font-size="3.8" text-anchor="middle" fill="#0a1a05" stroke="#0a1a05" stroke-width="0.12">2</text>
<text transform="translate(226.90,418.30) rotate(-61.0)" font-size="4.2" fill="#000" stroke="#000" stroke-width="0.14" textLength="26.53" lengthAdjust="spacingAndGlyphs">c.1389+1G&gt;A</text>
<ellipse cx="233.75" cy="434.40" rx="3.2" ry="3.9" fill="#d0107f" stroke="#151515" stroke-width="0.7"/>
<text x="233.75" y="435.77" font-size="3.8" text-anchor="middle" fill="#fbe0ef" stroke="#fbe0ef" stroke-width="0.12">2</text>
<text transform="translate(234.05,418.30) rotate(-61.0)" font-size="4.2" fill="#000" stroke="#000" stroke-width="0.14" textLength="45.85" lengthAdjust="spacingAndGlyphs">c.1413C&gt;T(p.Gln471*) *</text>
<ellipse cx="246.60" cy="434.40" rx="3.2" ry="3.9" fill="#f4c51a" stroke="#151515" stroke-width="0.7"/>
<text x="246.60" y="435.77" font-size="3.8" text-anchor="middle" fill="#1a1400" stroke="#1a1400" stroke-width="0.12">1</text>
<text transform="translate(246.90,418.30) rotate(-61.0)" font-size="4.2" fill="#000" stroke="#000" stroke-width="0.14" textLength="48.48" lengthAdjust="spacingAndGlyphs">c.1579C&gt;T(p.Arg527Cys)</text>
<ellipse cx="253.50" cy="434.40" rx="3.2" ry="3.9" fill="#b80f2e" stroke="#151515" stroke-width="0.7"/>
<text x="253.50" y="435.77" font-size="3.8" text-anchor="middle" fill="#fbe0e6" stroke="#fbe0e6" stroke-width="0.12">1</text>
<text transform="translate(253.80,418.30) rotate(-61.0)" font-size="4.2" fill="#000" stroke="#000" stroke-width="0.14" textLength="58.20" lengthAdjust="spacingAndGlyphs">c.1603_1614del(p.Arg535fs) *</text>
<ellipse cx="260.40" cy="434.40" rx="3.2" ry="3.9" fill="#f4c51a" stroke="#151515" stroke-width="0.7"/>
<text x="260.40" y="435.77" font-size="3.8" text-anchor="middle" fill="#1a1400" stroke="#1a1400" stroke-width="0.12">1</text>
<text transform="translate(260.70,418.30) rotate(-61.0)" font-size="4.2" fill="#000" stroke="#000" stroke-width="0.14" textLength="47.56" lengthAdjust="spacingAndGlyphs">c.1820C&gt;G(p.Arg607Pro)</text>
<ellipse cx="267.25" cy="434.40" rx="3.2" ry="3.9" fill="#5aa83a" stroke="#151515" stroke-width="0.7"/>
<text x="267.25" y="435.77" font-size="3.8" text-anchor="middle" fill="#0a1a05" stroke="#0a1a05" stroke-width="0.12">2</text>
<text transform="translate(267.55,418.30) rotate(-61.0)" font-size="4.2" fill="#000" stroke="#000" stroke-width="0.14" textLength="27.44" lengthAdjust="spacingAndGlyphs">c.1848+1G&gt;C</text>
<ellipse cx="279.10" cy="434.40" rx="3.2" ry="3.9" fill="#b80f2e" stroke="#151515" stroke-width="0.7"/>
<text x="279.10" y="435.77" font-size="3.8" text-anchor="middle" fill="#fbe0e6" stroke="#fbe0e6" stroke-width="0.12">1</text>
<text transform="translate(279.40,418.30) rotate(-61.0)" font-size="4.2" fill="#000" stroke="#000" stroke-width="0.14" textLength="56.37" lengthAdjust="spacingAndGlyphs">c.2037_2038delinsG(p.Arg680fs)</text>
<ellipse cx="298.50" cy="434.40" rx="3.2" ry="3.9" fill="#b80f2e" stroke="#151515" stroke-width="0.7"/>
<text x="298.50" y="435.77" font-size="3.8" text-anchor="middle" fill="#fbe0e6" stroke="#fbe0e6" stroke-width="0.12">1</text>
<text transform="translate(298.80,418.30) rotate(-61.0)" font-size="4.2" fill="#000" stroke="#000" stroke-width="0.14" textLength="89.87" lengthAdjust="spacingAndGlyphs">c.2298_2299delinsTACCTGTGTCCAAGGTCTGC(p.Arg767_Gly768del) *</text>
<ellipse cx="305.40" cy="434.40" rx="3.2" ry="3.9" fill="#d0107f" stroke="#151515" stroke-width="0.7"/>
<text x="305.40" y="435.77" font-size="3.8" text-anchor="middle" fill="#fbe0ef" stroke="#fbe0ef" stroke-width="0.12">2</text>
<text transform="translate(305.70,418.30) rotate(-61.0)" font-size="4.2" fill="#000" stroke="#000" stroke-width="0.14" textLength="46.76" lengthAdjust="spacingAndGlyphs">c.2346G&gt;T(p.Gln782*) *</text>
<ellipse cx="312.25" cy="434.40" rx="3.2" ry="3.9" fill="#5aa83a" stroke="#151515" stroke-width="0.7"/>
<text x="312.25" y="435.77" font-size="3.8" text-anchor="middle" fill="#0a1a05" stroke="#0a1a05" stroke-width="0.12">1</text>
<text transform="translate(312.55,418.30) rotate(-61.0)" font-size="4.2" fill="#000" stroke="#000" stroke-width="0.14" textLength="29.16" lengthAdjust="spacingAndGlyphs">c.2368+1G&gt;T *</text>
<ellipse cx="319.40" cy="434.40" rx="3.2" ry="3.9" fill="#b80f2e" stroke="#151515" stroke-width="0.7"/>
<text x="319.40" y="435.77" font-size="3.8" text-anchor="middle" fill="#fbe0e6" stroke="#fbe0e6" stroke-width="0.12">4</text>
<text transform="translate(319.70,418.30) rotate(-61.0)" font-size="4.2" fill="#000" stroke="#000" stroke-width="0.14" textLength="53.74" lengthAdjust="spacingAndGlyphs">c.2346_2349delGAGG(p.Arg782fs)</text>
<ellipse cx="326.25" cy="434.40" rx="3.2" ry="3.9" fill="#5aa83a" stroke="#151515" stroke-width="0.7"/>
<text x="326.25" y="435.77" font-size="3.8" text-anchor="middle" fill="#0a1a05" stroke="#0a1a05" stroke-width="0.12">2</text>
<text transform="translate(326.55,418.30) rotate(-61.0)" font-size="4.2" fill="#000" stroke="#000" stroke-width="0.14" textLength="30.07" lengthAdjust="spacingAndGlyphs">c.2447+1G&gt;A *</text>
<ellipse cx="333.40" cy="434.40" rx="3.2" ry="3.9" fill="#5aa83a" stroke="#151515" stroke-width="0.7"/>
<text x="333.40" y="435.77" font-size="3.8" text-anchor="middle" fill="#0a1a05" stroke="#0a1a05" stroke-width="0.12">4</text>
<text transform="translate(333.70,418.30) rotate(-61.0)" font-size="4.2" fill="#000" stroke="#000" stroke-width="0.14" textLength="29.16" lengthAdjust="spacingAndGlyphs">c.2553+1G&gt;T *</text>
<ellipse cx="340.25" cy="434.40" rx="3.2" ry="3.9" fill="#f4c51a" stroke="#151515" stroke-width="0.7"/>
<text x="340.25" y="435.77" font-size="3.8" text-anchor="middle" fill="#1a1400" stroke="#1a1400" stroke-width="0.12">3</text>
<text transform="translate(340.55,418.30) rotate(-61.0)" font-size="4.2" fill="#000" stroke="#000" stroke-width="0.14" textLength="48.48" lengthAdjust="spacingAndGlyphs">c.2588G&gt;A(p.Gly863Asp)</text>
<ellipse cx="347.25" cy="434.40" rx="3.2" ry="3.9" fill="#d0107f" stroke="#151515" stroke-width="0.7"/>
<text x="347.25" y="435.77" font-size="3.8" text-anchor="middle" fill="#fbe0ef" stroke="#fbe0ef" stroke-width="0.12">3</text>
<text transform="translate(347.55,418.30) rotate(-61.0)" font-size="4.2" fill="#000" stroke="#000" stroke-width="0.14" textLength="43.22" lengthAdjust="spacingAndGlyphs">c.2599C&gt;T(p.Arg867*)</text>
<ellipse cx="357.90" cy="434.40" rx="3.2" ry="3.9" fill="#b80f2e" stroke="#151515" stroke-width="0.7"/>
<text x="357.90" y="435.77" font-size="3.8" text-anchor="middle" fill="#fbe0e6" stroke="#fbe0e6" stroke-width="0.12">2</text>
<text transform="translate(358.20,418.30) rotate(-61.0)" font-size="4.2" fill="#000" stroke="#000" stroke-width="0.14" textLength="44.93" lengthAdjust="spacingAndGlyphs">c.2611delG(p.Leu871fs) *</text>
<ellipse cx="364.75" cy="434.40" rx="3.2" ry="3.9" fill="#f4c51a" stroke="#151515" stroke-width="0.7"/>
<text x="364.75" y="435.77" font-size="3.8" text-anchor="middle" fill="#1a1400" stroke="#1a1400" stroke-width="0.12">1</text>
<text transform="translate(365.05,418.30) rotate(-61.0)" font-size="4.2" fill="#000" stroke="#000" stroke-width="0.14" textLength="50.31" lengthAdjust="spacingAndGlyphs">c.2667T&gt;C(p.Pro889Leu) *</text>
<ellipse cx="381.90" cy="434.40" rx="3.2" ry="3.9" fill="#b80f2e" stroke="#151515" stroke-width="0.7"/>
<text x="381.90" y="435.77" font-size="3.8" text-anchor="middle" fill="#fbe0e6" stroke="#fbe0e6" stroke-width="0.12">2</text>
<text transform="translate(382.20,418.30) rotate(-61.0)" font-size="4.2" fill="#000" stroke="#000" stroke-width="0.14" textLength="48.48" lengthAdjust="spacingAndGlyphs">c.3048delA(p.Gln1017fs) *</text>
<ellipse cx="388.75" cy="434.40" rx="3.2" ry="3.9" fill="#f4c51a" stroke="#151515" stroke-width="0.7"/>
<text x="388.75" y="435.77" font-size="3.8" text-anchor="middle" fill="#1a1400" stroke="#1a1400" stroke-width="0.12">1</text>
<text transform="translate(389.05,418.30) rotate(-61.0)" font-size="4.2" fill="#000" stroke="#000" stroke-width="0.14" textLength="50.31" lengthAdjust="spacingAndGlyphs">c.3049G&gt;A(p.Glu1017Lys)</text>
<ellipse cx="395.60" cy="434.40" rx="3.2" ry="3.9" fill="#f4c51a" stroke="#151515" stroke-width="0.7"/>
<text x="395.60" y="435.77" font-size="3.8" text-anchor="middle" fill="#1a1400" stroke="#1a1400" stroke-width="0.12">2</text>
<text transform="translate(395.90,418.30) rotate(-61.0)" font-size="4.2" fill="#000" stroke="#000" stroke-width="0.14" textLength="53.74" lengthAdjust="spacingAndGlyphs">c.3083C&gt;A(p.Ala1028Met) *</text>
<ellipse cx="402.75" cy="434.40" rx="3.2" ry="3.9" fill="#f4c51a" stroke="#151515" stroke-width="0.7"/>
<text x="402.75" y="435.77" font-size="3.8" text-anchor="middle" fill="#1a1400" stroke="#1a1400" stroke-width="0.12">1</text>
<text transform="translate(403.05,418.30) rotate(-61.0)" font-size="4.2" fill="#000" stroke="#000" stroke-width="0.14" textLength="53.74" lengthAdjust="spacingAndGlyphs">c.3085T&gt;C(p.Leu1029Pro) *</text>
<ellipse cx="409.75" cy="434.40" rx="3.2" ry="3.9" fill="#d0107f" stroke="#151515" stroke-width="0.7"/>
<text x="409.75" y="435.77" font-size="3.8" text-anchor="middle" fill="#fbe0ef" stroke="#fbe0ef" stroke-width="0.12">1</text>
<text transform="translate(410.05,418.30) rotate(-61.0)" font-size="4.2" fill="#000" stroke="#000" stroke-width="0.14" textLength="46.53" lengthAdjust="spacingAndGlyphs">c.3193C&gt;T(p.Arg1065*)</text>
<circle cx="438.10" cy="379.00" r="1.85" fill="#27457f" stroke="#111" stroke-width="0.75"/>
<text x="443.10" y="380.40" font-size="4.1" text-anchor="start" fill="#333" stroke="#333" stroke-width="0.05" >in-frame</text>
<circle cx="438.10" cy="385.80" r="1.85" fill="#b80f2e" stroke="#111" stroke-width="0.75"/>
<text x="443.10" y="387.20" font-size="4.1" text-anchor="start" fill="#333" stroke="#333" stroke-width="0.05" >frameshift</text>
<circle cx="438.10" cy="392.10" r="1.85" fill="#f4c51a" stroke="#111" stroke-width="0.75"/>
<text x="443.10" y="393.50" font-size="4.1" text-anchor="start" fill="#333" stroke="#333" stroke-width="0.05" >missense</text>
<circle cx="438.10" cy="398.70" r="1.85" fill="#5aa83a" stroke="#111" stroke-width="0.75"/>
<text x="443.10" y="400.10" font-size="4.1" text-anchor="start" fill="#333" stroke="#333" stroke-width="0.05" >splicing</text>
<circle cx="438.10" cy="405.20" r="1.85" fill="#d0107f" stroke="#111" stroke-width="0.75"/>
<text x="443.10" y="406.60" font-size="4.1" text-anchor="start" fill="#333" stroke="#333" stroke-width="0.05" >nonsense</text>
<text x="25.00" y="472.40" font-size="5.1" text-anchor="start" fill="#222" stroke="#222" stroke-width="0.12" >Domains N ter-</text>
<rect x="91.90" y="465.20" width="38.70" height="10.70" fill="#f6dc8f"/>
<text x="111.25" y="472.37" font-size="5.2" text-anchor="middle" fill="#222" stroke="#222" stroke-width="0.12" >C2 domain</text>
<rect x="137.50" y="465.20" width="100.50" height="10.70" fill="#eebd84"/>
<text x="187.75" y="472.37" font-size="5.2" text-anchor="middle" fill="#222" stroke="#222" stroke-width="0.12" >Interaction with RAB27A</text>
<rect x="240.00" y="465.20" width="35.70" height="10.70" fill="#b6d89b"/>
<text x="257.85" y="472.44" font-size="5.4" text-anchor="middle" fill="#222" stroke="#222" stroke-width="0.12" >MH13 domain</text>
<rect x="309.50" y="465.20" width="33.70" height="10.70" fill="#b6d89b"/>
<text x="326.35" y="472.44" font-size="5.4" text-anchor="middle" fill="#222" stroke="#222" stroke-width="0.12" >MH13 domain</text>
<rect x="349.30" y="465.20" width="37.70" height="10.70" fill="#f6dc8f"/>
<text x="368.15" y="472.37" font-size="5.2" text-anchor="middle" fill="#222" stroke="#222" stroke-width="0.12" >C2 domain</text>
<text x="410.80" y="472.50" font-size="5.1" text-anchor="start" fill="#222" stroke="#222" stroke-width="0.12" >-C ter</text>
<text x="89.40" y="481.40" font-size="4.7" text-anchor="start" fill="#1a1a1a" stroke="#1a1a1a" stroke-width="0.05" >98</text>
<text x="130.60" y="481.40" font-size="4.7" text-anchor="end" fill="#1a1a1a" stroke="#1a1a1a" stroke-width="0.05" >221</text>
<text x="136.20" y="481.40" font-size="4.7" text-anchor="start" fill="#1a1a1a" stroke="#1a1a1a" stroke-width="0.05" >240</text>
<text x="238.30" y="481.40" font-size="4.7" text-anchor="end" fill="#1a1a1a" stroke="#1a1a1a" stroke-width="0.05" >543</text>
<text x="240.00" y="481.40" font-size="4.7" text-anchor="start" fill="#1a1a1a" stroke="#1a1a1a" stroke-width="0.05" >557</text>
<text x="276.00" y="481.40" font-size="4.7" text-anchor="end" fill="#1a1a1a" stroke="#1a1a1a" stroke-width="0.05" >677</text>
<text x="307.50" y="481.40" font-size="4.7" text-anchor="start" fill="#1a1a1a" stroke="#1a1a1a" stroke-width="0.05" >788</text>
<text x="343.20" y="481.40" font-size="4.7" text-anchor="end" fill="#1a1a1a" stroke="#1a1a1a" stroke-width="0.05" >895</text>
<text x="345.00" y="481.40" font-size="4.7" text-anchor="start" fill="#1a1a1a" stroke="#1a1a1a" stroke-width="0.05" >911</text>
<text x="391.30" y="481.40" font-size="4.7" text-anchor="end" fill="#1a1a1a" stroke="#1a1a1a" stroke-width="0.05" >1034</text>
<text x="234.00" y="496.70" font-size="10.15" text-anchor="start" fill="#111" stroke="#111" stroke-width="0.1" font-style="italic">UNC13D</text>
<text x="7.60" y="524.40" font-size="11.2" text-anchor="start" fill="#000" font-weight="bold" stroke="#000" stroke-width="0.35">D</text>
<rect x="21.90" y="601.00" width="38.10" height="6.90" rx="1.2" fill="#c7c5cb" stroke="#4a4a4a" stroke-width="0.9"/>
<text x="40.00" y="605.90" font-size="3.6" text-anchor="middle" fill="#333" stroke="#333" stroke-width="0.12" >5' UTR</text>
<rect x="398.00" y="601.20" width="115.60" height="6.40" rx="1.2" fill="#c7c5cb" stroke="#4a4a4a" stroke-width="0.9"/>
<text x="456.00" y="605.90" font-size="3.6" text-anchor="middle" fill="#333" stroke="#333" stroke-width="0.12" >3' UTR</text>
<rect x="58.75" y="598.30" width="340.65" height="12.50" rx="1.2" fill="#c7c5cb" stroke="#4a4a4a" stroke-width="0.9"/>
<line x1="59.35" y1="599.25" x2="398.80" y2="599.25" stroke="#d4d2d7" stroke-width="0.5"/>
<line x1="59.35" y1="609.80" x2="398.80" y2="609.80" stroke="#d0ced3" stroke-width="0.5"/>
<line x1="258.45" y1="598.30" x2="258.45" y2="610.80" stroke="#4a4a4a" stroke-width="0.8"/>
<line x1="280.90" y1="598.30" x2="280.90" y2="610.80" stroke="#4a4a4a" stroke-width="0.8"/>
<line x1="299.30" y1="598.30" x2="299.30" y2="610.80" stroke="#4a4a4a" stroke-width="0.8"/>
<line x1="309.30" y1="598.30" x2="309.30" y2="610.80" stroke="#4a4a4a" stroke-width="0.8"/>
<line x1="354.95" y1="598.30" x2="354.95" y2="610.80" stroke="#4a4a4a" stroke-width="0.8"/>
<text x="158.53" y="606.13" font-size="4.4" text-anchor="middle" fill="#3a3a3a" stroke="#3a3a3a" stroke-width="0.12" >2</text>
<text x="269.70" y="606.13" font-size="4.4" text-anchor="middle" fill="#3a3a3a" stroke="#3a3a3a" stroke-width="0.12" >3</text>
<text x="290.10" y="606.13" font-size="4.4" text-anchor="middle" fill="#3a3a3a" stroke="#3a3a3a" stroke-width="0.12" >4</text>
<text x="304.30" y="606.13" font-size="4.4" text-anchor="middle" fill="#3a3a3a" stroke="#3a3a3a" stroke-width="0.12" >5</text>
<text x="332.15" y="606.13" font-size="4.4" text-anchor="middle" fill="#3a3a3a" stroke="#3a3a3a" stroke-width="0.12" >6</text>
<text x="377.20" y="606.13" font-size="4.4" text-anchor="middle" fill="#3a3a3a" stroke="#3a3a3a" stroke-width="0.12" >7</text>
<line x1="91.90" y1="565.80" x2="91.90" y2="578.80" stroke="#5a5a5a" stroke-width="0.7"/>
<polyline points="91.90,588.20 91.90,590.60 91.90,598.30" fill="none" stroke="#4a4a4a" stroke-width="0.6"/>
<line x1="136.90" y1="565.80" x2="136.90" y2="578.80" stroke="#5a5a5a" stroke-width="0.7"/>
<polyline points="136.90,588.20 136.90,590.60 136.90,598.30" fill="none" stroke="#4a4a4a" stroke-width="0.6"/>
<line x1="196.90" y1="565.80" x2="196.90" y2="578.80" stroke="#5a5a5a" stroke-width="0.7"/>
<polyline points="196.90,588.20 196.90,590.60 196.90,598.30" fill="none" stroke="#4a4a4a" stroke-width="0.6"/>
<line x1="210.00" y1="565.80" x2="210.00" y2="578.80" stroke="#5a5a5a" stroke-width="0.7"/>
<polyline points="210.00,588.20 210.00,590.60 210.00,598.30" fill="none" stroke="#4a4a4a" stroke-width="0.6"/>
<line x1="226.25" y1="565.80" x2="226.25" y2="578.80" stroke="#5a5a5a" stroke-width="0.7"/>
<polyline points="226.25,588.20 226.25,590.60 226.25,598.30" fill="none" stroke="#4a4a4a" stroke-width="0.6"/>
<line x1="261.00" y1="565.80" x2="261.00" y2="578.80" stroke="#5a5a5a" stroke-width="0.7"/>
<polyline points="261.00,588.20 261.00,590.60 261.00,598.30" fill="none" stroke="#4a4a4a" stroke-width="0.6"/>
<line x1="269.10" y1="565.80" x2="269.10" y2="578.80" stroke="#5a5a5a" stroke-width="0.7"/>
<polyline points="269.10,588.20 269.10,590.60 265.00,598.30" fill="none" stroke="#4a4a4a" stroke-width="0.6"/>
<line x1="277.25" y1="565.80" x2="277.25" y2="578.80" stroke="#5a5a5a" stroke-width="0.7"/>
<polyline points="277.25,588.20 277.25,590.60 273.10,598.30" fill="none" stroke="#4a4a4a" stroke-width="0.6"/>
<line x1="285.40" y1="565.80" x2="285.40" y2="578.80" stroke="#5a5a5a" stroke-width="0.7"/>
<polyline points="285.40,588.20 285.40,590.60 279.40,598.30" fill="none" stroke="#4a4a4a" stroke-width="0.6"/>
<line x1="293.50" y1="565.80" x2="293.50" y2="578.80" stroke="#5a5a5a" stroke-width="0.7"/>
<polyline points="293.50,588.20 293.50,590.60 292.50,598.30" fill="none" stroke="#4a4a4a" stroke-width="0.6"/>
<line x1="301.60" y1="565.80" x2="301.60" y2="578.80" stroke="#5a5a5a" stroke-width="0.7"/>
<polyline points="301.60,588.20 301.60,590.60 299.40,598.30" fill="none" stroke="#4a4a4a" stroke-width="0.6"/>
<line x1="318.50" y1="565.80" x2="318.50" y2="578.80" stroke="#5a5a5a" stroke-width="0.7"/>
<polyline points="318.50,588.20 318.50,590.60 318.50,598.30" fill="none" stroke="#4a4a4a" stroke-width="0.6"/>
<line x1="340.00" y1="565.80" x2="340.00" y2="578.80" stroke="#5a5a5a" stroke-width="0.7"/>
<polyline points="340.00,588.20 340.00,590.60 340.00,598.30" fill="none" stroke="#4a4a4a" stroke-width="0.6"/>
<line x1="354.75" y1="565.80" x2="354.75" y2="578.80" stroke="#5a5a5a" stroke-width="0.7"/>
<polyline points="354.75,588.20 354.75,590.60 354.75,598.30" fill="none" stroke="#4a4a4a" stroke-width="0.6"/>
<line x1="387.10" y1="565.80" x2="387.10" y2="578.80" stroke="#5a5a5a" stroke-width="0.7"/>
<polyline points="387.10,588.20 387.10,590.60 387.10,598.30" fill="none" stroke="#4a4a4a" stroke-width="0.6"/>
<line x1="395.60" y1="565.80" x2="395.60" y2="578.80" stroke="#5a5a5a" stroke-width="0.7"/>
<polyline points="395.60,588.20 395.60,590.60 392.90,598.30" fill="none" stroke="#4a4a4a" stroke-width="0.6"/>
<ellipse cx="91.90" cy="583.50" rx="3.75" ry="4.7" fill="#d0107f" stroke="#151515" stroke-width="0.7"/>
<text x="91.90" y="585.01" font-size="4.2" text-anchor="middle" fill="#fbe0ef" stroke="#fbe0ef" stroke-width="0.12">1</text>
<text transform="translate(92.20,565.10) rotate(-61.0)" font-size="4.2" fill="#000" stroke="#000" stroke-width="0.14" textLength="36.93" lengthAdjust="spacingAndGlyphs">c.145C&gt;T(p.Arg49*)</text>
<ellipse cx="136.90" cy="583.50" rx="3.75" ry="4.7" fill="#d0107f" stroke="#151515" stroke-width="0.7"/>
<text x="136.90" y="585.01" font-size="4.2" text-anchor="middle" fill="#fbe0ef" stroke="#fbe0ef" stroke-width="0.12">1</text>
<text transform="translate(137.20,565.10) rotate(-61.0)" font-size="4.2" fill="#000" stroke="#000" stroke-width="0.14" textLength="42.65" lengthAdjust="spacingAndGlyphs">c.345C&gt;G(p.Tyr115*) *</text>
<ellipse cx="196.90" cy="583.50" rx="3.75" ry="4.7" fill="#f4c51a" stroke="#151515" stroke-width="0.7"/>
<text x="196.90" y="585.01" font-size="4.2" text-anchor="middle" fill="#1a1400" stroke="#1a1400" stroke-width="0.12">1</text>
<text transform="translate(197.20,565.10) rotate(-61.0)" font-size="4.2" fill="#000" stroke="#000" stroke-width="0.14" textLength="50.54" lengthAdjust="spacingAndGlyphs">c.608G&gt;T(p.Cys203Phe) *</text>
<ellipse cx="210.00" cy="583.50" rx="3.75" ry="4.7" fill="#d0107f" stroke="#151515" stroke-width="0.7"/>
<text x="210.00" y="585.01" font-size="4.2" text-anchor="middle" fill="#fbe0ef" stroke="#fbe0ef" stroke-width="0.12">1</text>
<text transform="translate(210.30,565.10) rotate(-61.0)" font-size="4.2" fill="#000" stroke="#000" stroke-width="0.14" textLength="40.02" lengthAdjust="spacingAndGlyphs">c.664C&gt;T(p.Arg222*)</text>
<ellipse cx="226.25" cy="583.50" rx="3.75" ry="4.7" fill="#b80f2e" stroke="#151515" stroke-width="0.7"/>
<text x="226.25" y="585.01" font-size="4.2" text-anchor="middle" fill="#fbe0e6" stroke="#fbe0e6" stroke-width="0.12">2</text>
<text transform="translate(226.55,565.10) rotate(-61.0)" font-size="4.2" fill="#000" stroke="#000" stroke-width="0.14" textLength="42.65" lengthAdjust="spacingAndGlyphs">c.728delA(p.Asp243fs) *</text>
<ellipse cx="261.00" cy="583.50" rx="3.75" ry="4.7" fill="#d0107f" stroke="#151515" stroke-width="0.7"/>
<text x="261.00" y="585.01" font-size="4.2" text-anchor="middle" fill="#fbe0ef" stroke="#fbe0ef" stroke-width="0.12">1</text>
<text transform="translate(261.30,565.10) rotate(-61.0)" font-size="4.2" fill="#000" stroke="#000" stroke-width="0.14" textLength="41.73" lengthAdjust="spacingAndGlyphs">c.889A&gt;T(p.Lys297*) *</text>
<ellipse cx="269.10" cy="583.50" rx="3.75" ry="4.7" fill="#b80f2e" stroke="#151515" stroke-width="0.7"/>
<text x="269.10" y="585.01" font-size="4.2" text-anchor="middle" fill="#fbe0e6" stroke="#fbe0e6" stroke-width="0.12">2</text>
<text transform="translate(269.40,565.10) rotate(-61.0)" font-size="4.2" fill="#000" stroke="#000" stroke-width="0.14" textLength="50.99" lengthAdjust="spacingAndGlyphs">c.894_898del(p.Lys299fs) *</text>
<ellipse cx="277.25" cy="583.50" rx="3.75" ry="4.7" fill="#b80f2e" stroke="#151515" stroke-width="0.7"/>
<text x="277.25" y="585.01" font-size="4.2" text-anchor="middle" fill="#fbe0e6" stroke="#fbe0e6" stroke-width="0.12">1</text>
<text transform="translate(277.55,565.10) rotate(-61.0)" font-size="4.2" fill="#000" stroke="#000" stroke-width="0.14" textLength="49.62" lengthAdjust="spacingAndGlyphs">c.929_932del(p.Arg310fs)</text>
<ellipse cx="285.40" cy="583.50" rx="3.75" ry="4.7" fill="#d0107f" stroke="#151515" stroke-width="0.7"/>
<text x="285.40" y="585.01" font-size="4.2" text-anchor="middle" fill="#fbe0ef" stroke="#fbe0ef" stroke-width="0.12">1</text>
<text transform="translate(285.70,565.10) rotate(-61.0)" font-size="4.2" fill="#000" stroke="#000" stroke-width="0.14" textLength="40.47" lengthAdjust="spacingAndGlyphs">c.966G&gt;A(p.Trp322*)</text>
<ellipse cx="293.50" cy="583.50" rx="3.75" ry="4.7" fill="#b80f2e" stroke="#151515" stroke-width="0.7"/>
<text x="293.50" y="585.01" font-size="4.2" text-anchor="middle" fill="#fbe0e6" stroke="#fbe0e6" stroke-width="0.12">1</text>
<text transform="translate(293.80,565.10) rotate(-61.0)" font-size="4.2" fill="#000" stroke="#000" stroke-width="0.14" textLength="53.62" lengthAdjust="spacingAndGlyphs">c.1021_1022del(p.Asn341fs)</text>
<ellipse cx="301.60" cy="583.50" rx="3.75" ry="4.7" fill="#5aa83a" stroke="#151515" stroke-width="0.7"/>
<text x="301.60" y="585.01" font-size="4.2" text-anchor="middle" fill="#0a1a05" stroke="#0a1a05" stroke-width="0.12">1</text>
<text transform="translate(301.90,565.10) rotate(-61.0)" font-size="4.2" fill="#000" stroke="#000" stroke-width="0.14" textLength="27.21" lengthAdjust="spacingAndGlyphs">c.1056+1G&gt;A</text>
<ellipse cx="318.50" cy="583.50" rx="3.75" ry="4.7" fill="#d0107f" stroke="#151515" stroke-width="0.7"/>
<text x="318.50" y="585.01" font-size="4.2" text-anchor="middle" fill="#fbe0ef" stroke="#fbe0ef" stroke-width="0.12">2</text>
<text transform="translate(318.80,565.10) rotate(-61.0)" font-size="4.2" fill="#000" stroke="#000" stroke-width="0.14" textLength="41.73" lengthAdjust="spacingAndGlyphs">c.1141C&gt;T(p.Arg381*)</text>
<ellipse cx="340.00" cy="583.50" rx="3.75" ry="4.7" fill="#b80f2e" stroke="#151515" stroke-width="0.7"/>
<text x="340.00" y="585.01" font-size="4.2" text-anchor="middle" fill="#fbe0e6" stroke="#fbe0e6" stroke-width="0.12">2</text>
<text transform="translate(340.30,565.10) rotate(-61.0)" font-size="4.2" fill="#000" stroke="#000" stroke-width="0.14" textLength="56.25" lengthAdjust="spacingAndGlyphs">c.1239_1240del(p.Val415fs) *</text>
<ellipse cx="354.75" cy="583.50" rx="3.75" ry="4.7" fill="#5aa83a" stroke="#151515" stroke-width="0.7"/>
<text x="354.75" y="585.01" font-size="4.2" text-anchor="middle" fill="#0a1a05" stroke="#0a1a05" stroke-width="0.12">1</text>
<text transform="translate(355.05,565.10) rotate(-61.0)" font-size="4.2" fill="#000" stroke="#000" stroke-width="0.14" textLength="27.21" lengthAdjust="spacingAndGlyphs">c.1301-1G&gt;A *</text>
<ellipse cx="387.10" cy="583.50" rx="3.75" ry="4.7" fill="#f4c51a" stroke="#151515" stroke-width="0.7"/>
<text x="387.10" y="585.01" font-size="4.2" text-anchor="middle" fill="#1a1400" stroke="#1a1400" stroke-width="0.12">1</text>
<text transform="translate(387.40,565.10) rotate(-61.0)" font-size="4.2" fill="#000" stroke="#000" stroke-width="0.14" textLength="47.56" lengthAdjust="spacingAndGlyphs">c.1445C&gt;G(p.Pro482Arg)</text>
<ellipse cx="395.60" cy="583.50" rx="3.75" ry="4.7" fill="#b80f2e" stroke="#151515" stroke-width="0.7"/>
<text x="395.60" y="585.01" font-size="4.2" text-anchor="middle" fill="#fbe0e6" stroke="#fbe0e6" stroke-width="0.12">1</text>
<text transform="translate(395.90,565.10) rotate(-61.0)" font-size="4.2" fill="#000" stroke="#000" stroke-width="0.14" textLength="44.36" lengthAdjust="spacingAndGlyphs">c.1456delA(p.Thr486fs) *</text>
<circle cx="438.20" cy="528.10" r="1.85" fill="#27457f" stroke="#111" stroke-width="0.75"/>
<text x="443.20" y="529.50" font-size="4.1" text-anchor="start" fill="#333" stroke="#333" stroke-width="0.05" >in-frame</text>
<circle cx="438.20" cy="534.60" r="1.85" fill="#b80f2e" stroke="#111" stroke-width="0.75"/>
<text x="443.20" y="536.00" font-size="4.1" text-anchor="start" fill="#333" stroke="#333" stroke-width="0.05" >frameshift</text>
<circle cx="438.20" cy="541.30" r="1.85" fill="#f4c51a" stroke="#111" stroke-width="0.75"/>
<text x="443.20" y="542.70" font-size="4.1" text-anchor="start" fill="#333" stroke="#333" stroke-width="0.05" >missense</text>
<circle cx="438.20" cy="548.00" r="1.85" fill="#5aa83a" stroke="#111" stroke-width="0.75"/>
<text x="443.20" y="549.40" font-size="4.1" text-anchor="start" fill="#333" stroke="#333" stroke-width="0.05" >splicing</text>
<circle cx="438.20" cy="554.40" r="1.85" fill="#d0107f" stroke="#111" stroke-width="0.75"/>
<text x="443.20" y="555.80" font-size="4.1" text-anchor="start" fill="#333" stroke="#333" stroke-width="0.05" >nonsense</text>
<text x="24.00" y="628.90" font-size="5.1" text-anchor="start" fill="#222" stroke="#222" stroke-width="0.12" >Domains N ter-</text>
<rect x="74.60" y="617.00" width="49.20" height="12.80" fill="#e0a08f"/>
<text x="99.20" y="622.20" font-size="4.3" text-anchor="middle" fill="#222" stroke="#222" stroke-width="0.12" >Baculoviral inhibition of</text>
<text x="99.20" y="627.61" font-size="4.3" text-anchor="middle" fill="#222" stroke="#222" stroke-width="0.12" >apoptosis protein repeat</text>
<rect x="168.00" y="617.00" width="49.70" height="12.80" fill="#e0a08f"/>
<text x="192.85" y="622.20" font-size="4.3" text-anchor="middle" fill="#222" stroke="#222" stroke-width="0.12" >Baculoviral inhibition of</text>
<text x="192.85" y="627.61" font-size="4.3" text-anchor="middle" fill="#222" stroke="#222" stroke-width="0.12" >apoptosis protein repeat</text>
<rect x="237.70" y="617.00" width="48.90" height="12.80" fill="#e0a08f"/>
<text x="262.15" y="622.20" font-size="4.3" text-anchor="middle" fill="#222" stroke="#222" stroke-width="0.12" >Baculoviral inhibition of</text>
<text x="262.15" y="627.61" font-size="4.3" text-anchor="middle" fill="#222" stroke="#222" stroke-width="0.12" >apoptosis protein repeat</text>
<rect x="366.10" y="617.00" width="22.70" height="12.80" fill="#6aabe1"/>
<text x="377.45" y="622.19" font-size="4.25" text-anchor="middle" fill="#222" stroke="#222" stroke-width="0.12" >Zinc finger,</text>
<text x="377.45" y="627.59" font-size="4.25" text-anchor="middle" fill="#222" stroke="#222" stroke-width="0.12" >RING-type</text>
<text x="399.60" y="625.30" font-size="5.1" text-anchor="start" fill="#222" stroke="#222" stroke-width="0.12" >-C ter</text>
<text x="72.00" y="635.20" font-size="4.7" text-anchor="start" fill="#1a1a1a" stroke="#1a1a1a" stroke-width="0.05" >24</text>
<text x="125.80" y="635.20" font-size="4.7" text-anchor="end" fill="#1a1a1a" stroke="#1a1a1a" stroke-width="0.05" >95</text>
<text x="164.60" y="635.20" font-size="4.7" text-anchor="start" fill="#1a1a1a" stroke="#1a1a1a" stroke-width="0.05" >161</text>
<text x="220.80" y="635.20" font-size="4.7" text-anchor="end" fill="#1a1a1a" stroke="#1a1a1a" stroke-width="0.05" >232</text>
<text x="233.80" y="635.20" font-size="4.7" text-anchor="start" fill="#1a1a1a" stroke="#1a1a1a" stroke-width="0.05" >263</text>
<text x="289.70" y="635.20" font-size="4.7" text-anchor="end" fill="#1a1a1a" stroke="#1a1a1a" stroke-width="0.05" >332</text>
<text x="362.40" y="635.20" font-size="4.7" text-anchor="start" fill="#1a1a1a" stroke="#1a1a1a" stroke-width="0.05" >450</text>
<text x="391.90" y="635.20" font-size="4.7" text-anchor="end" fill="#1a1a1a" stroke="#1a1a1a" stroke-width="0.05" >484</text>
<text x="256.40" y="650.80" font-size="9.8" text-anchor="start" fill="#111" stroke="#111" stroke-width="0.1" font-style="italic">XIAP</text>
<rect x="0" y="0" width="1.15" height="660" fill="#000"/>
<rect x="0" y="0" width="520" height="1.1" fill="#000"/>
<rect x="518.85" y="0" width="1.15" height="660" fill="#000"/>
<rect x="0" y="658.9" width="520" height="1.1" fill="#000"/>
</svg>
</body></html>
